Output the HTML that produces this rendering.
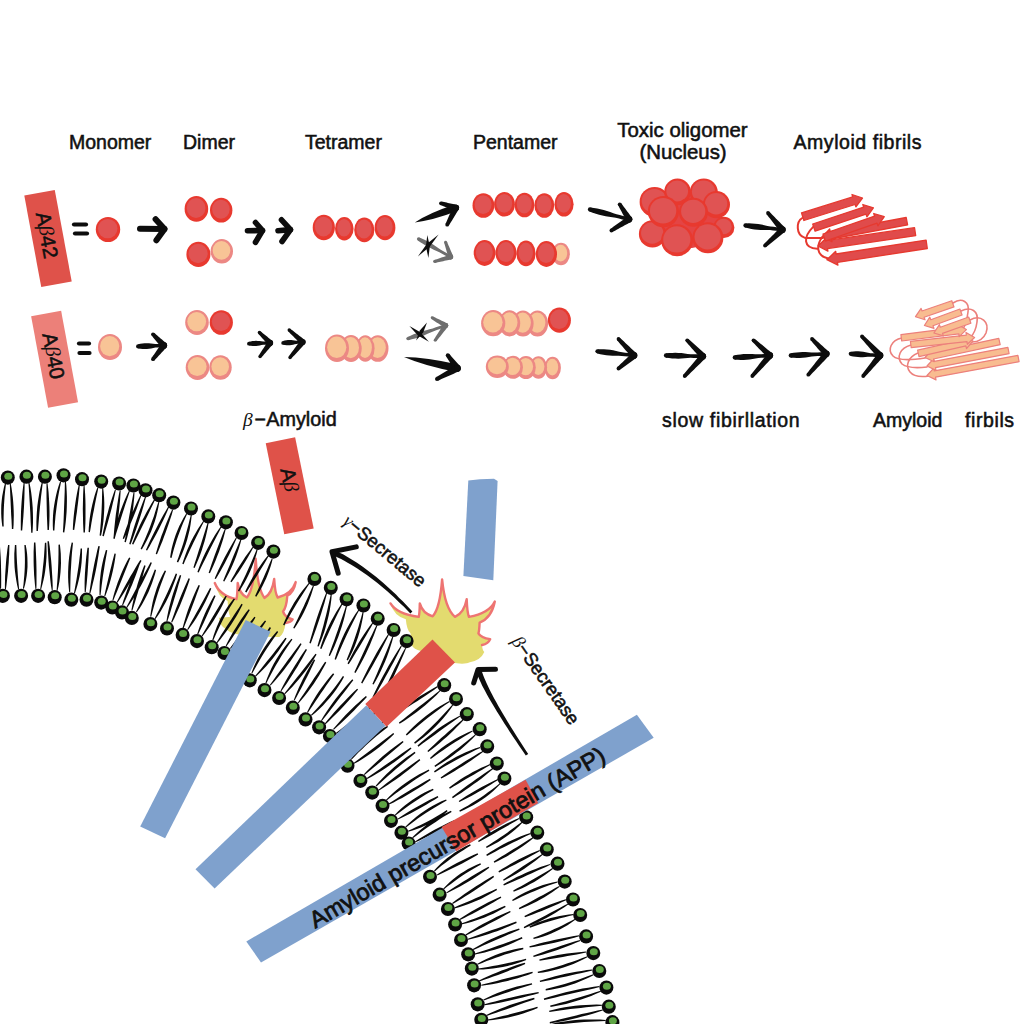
<!DOCTYPE html><html><head><meta charset="utf-8"><style>html,body{margin:0;padding:0;background:#fff;width:1024px;height:1024px;overflow:hidden}svg{display:block}text{font-family:"Liberation Sans", sans-serif;fill:#111;stroke:#111;stroke-width:0.55px}tspan.g{stroke-width:0}</style></head><body>
<svg width="1024" height="1024" viewBox="0 0 1024 1024">
<rect width="1024" height="1024" fill="#fff"/>
<text x="69" y="149" font-size="19.5" text-anchor="start" >Monomer</text>
<text x="183" y="149" font-size="19.5" text-anchor="start" >Dimer</text>
<text x="305" y="149" font-size="19.5" text-anchor="start" >Tetramer</text>
<text x="473" y="149" font-size="19.5" text-anchor="start" >Pentamer</text>
<text x="682.5" y="136.5" font-size="20.4" text-anchor="middle" >Toxic oligomer</text>
<text x="683" y="159" font-size="20.4" text-anchor="middle" >(Nucleus)</text>
<text x="793.5" y="149" font-size="19.5" text-anchor="start" letter-spacing="0.55">Amyloid fibrils</text>
<g transform="translate(48,238.5) rotate(-10.5)">
<rect x="-15.5" y="-46.5" width="31" height="93" fill="#DF524A"/>
<text x="-3.5" y="0" font-size="20.5" text-anchor="middle" dominant-baseline="central" transform="rotate(90)">A<tspan class="g" font-family="Liberation Serif" font-style="italic">β</tspan>42</text>
</g>
<path d="M74.0,224.5L86.0,224.5" stroke="#0d0d0d" stroke-width="4.2" stroke-linecap="round" fill="none"/>
<path d="M75.0,233.5L87.0,233.5" stroke="#0d0d0d" stroke-width="4.2" stroke-linecap="round" fill="none"/>
<ellipse cx="108.0" cy="229.5" rx="12.2" ry="12.6" fill="#E8392F"/>
<ellipse cx="107.7" cy="228.6" rx="9.8" ry="9.7" fill="#E05353"/>
<path d="M140.0,228.7L164.5,229.0" stroke="#0d0d0d" stroke-width="6" stroke-linecap="round" fill="none"/>
<path d="M155.6,219.2L164.5,229.0L156.4,240.3" stroke="#0d0d0d" stroke-width="6" stroke-linecap="round" stroke-linejoin="round" fill="none"/>
<ellipse cx="196.4" cy="208.9" rx="11.8" ry="12.8" fill="#E8392F"/>
<ellipse cx="196.1" cy="208.0" rx="9.4" ry="9.9" fill="#E05353"/>
<ellipse cx="221.2" cy="210.2" rx="11.2" ry="12.4" fill="#E8392F"/>
<ellipse cx="220.9" cy="209.3" rx="8.8" ry="9.5" fill="#E05353"/>
<ellipse cx="221.8" cy="251.3" rx="11.2" ry="12.2" fill="#EC8884"/>
<ellipse cx="221.5" cy="250.4" rx="8.8" ry="9.3" fill="#F8C496"/>
<ellipse cx="198.4" cy="254.4" rx="12.0" ry="12.6" fill="#E8392F"/>
<ellipse cx="198.1" cy="253.5" rx="9.6" ry="9.7" fill="#E05353"/>
<path d="M247.5,230.8L262.5,230.5" stroke="#0d0d0d" stroke-width="5.6" stroke-linecap="round" fill="none"/>
<path d="M255.5,222.5L262.5,230.5L255.5,242.3" stroke="#0d0d0d" stroke-width="5.6" stroke-linecap="round" stroke-linejoin="round" fill="none"/>
<path d="M278.0,230.8L290.5,229.6" stroke="#0d0d0d" stroke-width="5.6" stroke-linecap="round" fill="none"/>
<path d="M281.5,219.8L290.5,229.6L282.0,241.5" stroke="#0d0d0d" stroke-width="5.6" stroke-linecap="round" stroke-linejoin="round" fill="none"/>
<ellipse cx="385.0" cy="227.7" rx="10.4" ry="12.6" fill="#E8392F"/>
<ellipse cx="384.7" cy="226.8" rx="8.0" ry="9.7" fill="#E05353"/>
<ellipse cx="364.3" cy="229.9" rx="10.1" ry="12.3" fill="#E8392F"/>
<ellipse cx="364.0" cy="229.0" rx="7.7" ry="9.4" fill="#E05353"/>
<ellipse cx="344.3" cy="228.7" rx="9.3" ry="11.7" fill="#E8392F"/>
<ellipse cx="344.0" cy="227.8" rx="6.9" ry="8.8" fill="#E05353"/>
<ellipse cx="323.8" cy="227.5" rx="11.1" ry="12.8" fill="#E8392F"/>
<ellipse cx="323.5" cy="226.6" rx="8.7" ry="9.9" fill="#E05353"/>
<path d="M414.8,222.4 Q432.7,220.5 457.2,211.1 L454.8,204.5 Q429.9,212.6 414.8,222.4Z" fill="#0d0d0d"/>
<path d="M456.90,204.80L455.62,204.53L454.34,204.25L453.06,203.98L451.78,203.70L450.50,203.43L449.22,203.15L447.94,202.88L446.66,202.60L445.38,202.33L444.10,202.05L442.82,201.78L441.54,201.50L440.46,205.10L441.68,205.57L442.90,206.05L444.12,206.52L445.34,207.00L446.56,207.47L447.78,207.95L449.00,208.42L450.22,208.90L451.44,209.37L452.66,209.85L453.88,210.32L455.10,210.80Z" fill="#0d0d0d"/><circle cx="456.00" cy="207.80" r="3.13" fill="#0d0d0d"/><circle cx="441.00" cy="203.30" r="1.88" fill="#0d0d0d"/>
<path d="M453.22,206.35L452.58,207.81L451.94,209.27L451.30,210.72L450.66,212.18L450.02,213.64L449.38,215.09L448.74,216.55L448.10,218.01L447.46,219.46L446.81,220.92L446.17,222.38L445.53,223.83L448.87,225.57L449.69,224.21L450.52,222.85L451.34,221.49L452.17,220.13L453.00,218.77L453.82,217.41L454.65,216.05L455.47,214.69L456.30,213.33L457.13,211.97L457.95,210.61L458.78,209.25Z" fill="#0d0d0d"/><circle cx="456.00" cy="207.80" r="3.13" fill="#0d0d0d"/><circle cx="447.20" cy="224.70" r="1.88" fill="#0d0d0d"/>
<path d="M417.77,240.38L420.32,242.13L422.90,243.82L425.53,245.42L428.22,246.92L430.96,248.32L433.75,249.64L436.57,250.90L439.37,252.21L442.05,253.72L444.73,255.23L447.42,256.73L450.10,258.24L451.50,255.76L448.82,254.25L446.13,252.74L443.45,251.23L440.77,249.72L438.19,248.02L435.65,246.26L433.07,244.56L430.45,242.95L427.77,241.43L425.04,240.01L422.25,238.69L419.43,237.42Z" fill="#6e6e6e"/><circle cx="418.60" cy="238.90" r="1.70" fill="#6e6e6e"/><circle cx="450.80" cy="257.00" r="1.43" fill="#6e6e6e"/>
<path d="M453.14,256.17L452.63,254.97L452.12,253.78L451.61,252.58L451.10,251.38L450.58,250.18L450.07,248.99L449.56,247.79L449.05,246.59L448.54,245.40L448.03,244.20L447.52,243.00L447.01,241.80L444.19,242.80L444.55,244.05L444.91,245.30L445.26,246.55L445.62,247.81L445.97,249.06L446.33,250.31L446.68,251.57L447.04,252.82L447.39,254.07L447.75,255.32L448.10,256.58L448.46,257.83Z" fill="#6e6e6e"/><circle cx="450.80" cy="257.00" r="2.48" fill="#6e6e6e"/><circle cx="445.60" cy="242.30" r="1.49" fill="#6e6e6e"/>
<path d="M450.14,254.61L448.81,255.06L447.48,255.52L446.15,255.97L444.82,256.43L443.50,256.88L442.17,257.34L440.84,257.79L439.51,258.24L438.18,258.70L436.86,259.15L435.53,259.61L434.20,260.06L435.00,262.94L436.37,262.64L437.74,262.35L439.12,262.05L440.49,261.76L441.86,261.46L443.23,261.16L444.60,260.87L445.98,260.57L447.35,260.28L448.72,259.98L450.09,259.69L451.46,259.39Z" fill="#6e6e6e"/><circle cx="450.80" cy="257.00" r="2.48" fill="#6e6e6e"/><circle cx="434.60" cy="261.50" r="1.49" fill="#6e6e6e"/>
<path d="M427.3,234.9L425.9,246.5L428.4,258.0L429.8,246.4Z" fill="#0d0d0d"/>
<path d="M438.6,234.5L426.8,244.1L417.9,256.4L429.7,246.8Z" fill="#0d0d0d"/>
<ellipse cx="483.4" cy="205.5" rx="10.9" ry="12.3" fill="#E8392F"/>
<ellipse cx="483.1" cy="204.6" rx="8.5" ry="9.4" fill="#E05353"/>
<ellipse cx="504.5" cy="204.3" rx="10.4" ry="12.3" fill="#E8392F"/>
<ellipse cx="504.2" cy="203.4" rx="8.0" ry="9.4" fill="#E05353"/>
<ellipse cx="524.5" cy="205.0" rx="9.9" ry="12.3" fill="#E8392F"/>
<ellipse cx="524.2" cy="204.1" rx="7.5" ry="9.4" fill="#E05353"/>
<ellipse cx="544.3" cy="205.5" rx="9.9" ry="12.3" fill="#E8392F"/>
<ellipse cx="544.0" cy="204.6" rx="7.5" ry="9.4" fill="#E05353"/>
<ellipse cx="564.0" cy="204.3" rx="9.6" ry="12.3" fill="#E8392F"/>
<ellipse cx="563.7" cy="203.4" rx="7.2" ry="9.4" fill="#E05353"/>
<ellipse cx="561.0" cy="254.0" rx="8.9" ry="11.2" fill="#EC8884"/>
<ellipse cx="560.7" cy="253.1" rx="6.5" ry="8.3" fill="#F8C496"/>
<ellipse cx="546.4" cy="254.0" rx="10.6" ry="12.9" fill="#E8392F"/>
<ellipse cx="546.1" cy="253.1" rx="8.2" ry="10.0" fill="#E05353"/>
<ellipse cx="526.0" cy="253.4" rx="9.6" ry="12.9" fill="#E8392F"/>
<ellipse cx="525.7" cy="252.5" rx="7.2" ry="10.0" fill="#E05353"/>
<ellipse cx="506.0" cy="253.0" rx="10.6" ry="12.9" fill="#E8392F"/>
<ellipse cx="505.7" cy="252.1" rx="8.2" ry="10.0" fill="#E05353"/>
<ellipse cx="484.6" cy="253.0" rx="10.9" ry="12.9" fill="#E8392F"/>
<ellipse cx="484.3" cy="252.1" rx="8.5" ry="10.0" fill="#E05353"/>
<path d="M589.48,211.57L592.66,212.73L595.87,213.80L599.10,214.75L602.37,215.56L605.67,216.22L609.01,216.77L612.36,217.24L615.70,217.78L618.96,218.59L622.23,219.41L625.50,220.23L628.76,221.04L629.64,217.56L626.37,216.74L623.10,215.92L619.84,215.11L616.57,214.29L613.37,213.20L610.19,212.03L606.99,210.94L603.76,209.98L600.50,209.15L597.20,208.46L593.87,207.90L590.52,207.43Z" fill="#0d0d0d"/><circle cx="590.00" cy="209.50" r="2.14" fill="#0d0d0d"/><circle cx="629.20" cy="219.30" r="1.80" fill="#0d0d0d"/>
<path d="M631.85,217.62L630.97,216.43L630.09,215.24L629.21,214.04L628.33,212.85L627.45,211.65L626.57,210.46L625.69,209.27L624.81,208.07L623.93,206.88L623.05,205.68L622.17,204.49L621.29,203.29L618.11,205.31L618.82,206.61L619.52,207.92L620.22,209.22L620.93,210.53L621.63,211.83L622.33,213.14L623.04,214.45L623.74,215.75L624.44,217.06L625.15,218.36L625.85,219.67L626.55,220.98Z" fill="#0d0d0d"/><circle cx="629.20" cy="219.30" r="3.13" fill="#0d0d0d"/><circle cx="619.70" cy="204.30" r="1.88" fill="#0d0d0d"/>
<path d="M627.53,216.65L626.10,217.67L624.68,218.69L623.25,219.71L621.82,220.74L620.39,221.76L618.97,222.78L617.54,223.80L616.11,224.82L614.68,225.84L613.25,226.87L611.83,227.89L610.40,228.91L612.40,232.09L613.94,231.25L615.48,230.40L617.02,229.56L618.56,228.71L620.10,227.87L621.63,227.02L623.17,226.18L624.71,225.33L626.25,224.49L627.79,223.64L629.33,222.80L630.87,221.95Z" fill="#0d0d0d"/><circle cx="629.20" cy="219.30" r="3.13" fill="#0d0d0d"/><circle cx="611.40" cy="230.50" r="1.88" fill="#0d0d0d"/>
<path d="M655,200 L675,192 L700,192 L714,200 L722,215 L722,232 L712,244 L692,248 L668,248 L654,238 L652,215 Z" fill="#E44444"/>
<ellipse cx="654.6" cy="201.9" rx="15.0" ry="15.0" fill="#E8392F"/>
<ellipse cx="654.3" cy="201.0" rx="12.6" ry="12.1" fill="#E05353"/>
<ellipse cx="677.5" cy="191.9" rx="13.3" ry="13.3" fill="#E8392F"/>
<ellipse cx="677.2" cy="191.0" rx="10.9" ry="10.4" fill="#E05353"/>
<ellipse cx="703.8" cy="192.5" rx="14.0" ry="14.0" fill="#E8392F"/>
<ellipse cx="703.5" cy="191.6" rx="11.6" ry="11.1" fill="#E05353"/>
<ellipse cx="716.4" cy="204.6" rx="13.6" ry="13.6" fill="#E8392F"/>
<ellipse cx="716.1" cy="203.7" rx="11.2" ry="10.7" fill="#E05353"/>
<ellipse cx="723.8" cy="227.4" rx="10.6" ry="10.6" fill="#E8392F"/>
<ellipse cx="723.5" cy="226.5" rx="8.2" ry="7.7" fill="#E05353"/>
<ellipse cx="652.5" cy="233.9" rx="13.6" ry="13.6" fill="#E8392F"/>
<ellipse cx="652.2" cy="233.0" rx="11.2" ry="10.7" fill="#E05353"/>
<ellipse cx="663.4" cy="211.6" rx="15.6" ry="15.6" fill="#E8392F"/>
<ellipse cx="663.1" cy="210.7" rx="13.2" ry="12.7" fill="#E05353"/>
<ellipse cx="693.5" cy="212.2" rx="14.5" ry="14.5" fill="#E8392F"/>
<ellipse cx="693.2" cy="211.3" rx="12.1" ry="11.6" fill="#E05353"/>
<ellipse cx="677.1" cy="240.3" rx="16.0" ry="16.0" fill="#E8392F"/>
<ellipse cx="676.8" cy="239.4" rx="13.6" ry="13.1" fill="#E05353"/>
<ellipse cx="707.9" cy="237.7" rx="15.5" ry="15.5" fill="#E8392F"/>
<ellipse cx="707.6" cy="236.8" rx="13.1" ry="12.6" fill="#E05353"/>
<path d="M745.26,227.62L748.31,228.33L751.37,228.93L754.45,229.42L757.54,229.76L760.65,229.95L763.77,230.03L766.91,230.02L770.03,230.09L773.12,230.44L776.21,230.79L779.31,231.14L782.40,231.49L782.80,227.91L779.71,227.56L776.62,227.21L773.53,226.86L770.44,226.51L767.38,225.88L764.33,225.17L761.26,224.55L758.19,224.04L755.10,223.68L751.99,223.47L748.87,223.37L745.74,223.38Z" fill="#0d0d0d"/><circle cx="745.50" cy="225.50" r="2.14" fill="#0d0d0d"/><circle cx="782.60" cy="229.70" r="1.80" fill="#0d0d0d"/>
<path d="M784.96,227.64L783.66,226.32L782.37,224.99L781.07,223.67L779.78,222.35L778.48,221.02L777.19,219.70L775.89,218.38L774.60,217.05L773.30,215.73L772.01,214.41L770.71,213.09L769.41,211.76L766.59,214.24L767.72,215.70L768.86,217.16L770.00,218.62L771.14,220.08L772.28,221.54L773.41,223.00L774.55,224.46L775.69,225.92L776.83,227.38L777.97,228.84L779.10,230.30L780.24,231.76Z" fill="#0d0d0d"/><circle cx="782.60" cy="229.70" r="3.13" fill="#0d0d0d"/><circle cx="768.00" cy="213.00" r="1.88" fill="#0d0d0d"/>
<path d="M780.50,227.38L779.10,228.78L777.71,230.18L776.31,231.58L774.91,232.99L773.52,234.39L772.12,235.79L770.72,237.19L769.33,238.60L767.93,240.00L766.53,241.40L765.14,242.80L763.74,244.21L766.26,246.99L767.80,245.75L769.33,244.50L770.87,243.25L772.41,242.00L773.94,240.76L775.48,239.51L777.02,238.26L778.55,237.01L780.09,235.77L781.63,234.52L783.16,233.27L784.70,232.02Z" fill="#0d0d0d"/><circle cx="782.60" cy="229.70" r="3.13" fill="#0d0d0d"/><circle cx="765.00" cy="245.60" r="1.88" fill="#0d0d0d"/>
<g transform="translate(54.6,359.2) rotate(-10.5)">
<rect x="-15.25" y="-46.5" width="30.5" height="93" fill="#EC8079"/>
<text x="-3.5" y="0" font-size="20.5" text-anchor="middle" dominant-baseline="central" transform="rotate(90)">A<tspan class="g" font-family="Liberation Serif" font-style="italic">β</tspan>40</text>
</g>
<path d="M79.0,343.5L89.0,343.5" stroke="#0d0d0d" stroke-width="4.2" stroke-linecap="round" fill="none"/>
<path d="M79.5,353.0L89.5,353.0" stroke="#0d0d0d" stroke-width="4.2" stroke-linecap="round" fill="none"/>
<ellipse cx="110.0" cy="347.0" rx="12.0" ry="13.0" fill="#EC8884"/>
<ellipse cx="109.7" cy="346.1" rx="9.6" ry="10.1" fill="#F8C496"/>
<path d="M138.27,348.54L140.44,348.81L142.60,349.00L144.75,349.06L146.90,348.97L149.04,348.75L151.19,348.39L153.32,347.96L155.46,347.60L157.61,347.52L159.76,347.45L161.91,347.37L164.06,347.30L163.94,343.70L161.79,343.78L159.64,343.85L157.49,343.93L155.34,344.00L153.18,343.79L151.01,343.51L148.86,343.30L146.70,343.23L144.55,343.29L142.40,343.50L140.26,343.84L138.13,344.26Z" fill="#0d0d0d"/><circle cx="138.20" cy="346.40" r="2.14" fill="#0d0d0d"/><circle cx="164.00" cy="345.50" r="1.80" fill="#0d0d0d"/>
<path d="M166.23,343.31L165.24,342.45L164.25,341.59L163.26,340.72L162.27,339.86L161.28,339.00L160.29,338.14L159.30,337.28L158.31,336.42L157.31,335.56L156.32,334.70L155.33,333.84L154.34,332.98L151.66,335.62L152.50,336.62L153.34,337.63L154.19,338.64L155.03,339.64L155.87,340.65L156.71,341.66L157.55,342.66L158.40,343.67L159.24,344.68L160.08,345.68L160.92,346.69L161.77,347.69Z" fill="#0d0d0d"/><circle cx="164.00" cy="345.50" r="3.13" fill="#0d0d0d"/><circle cx="153.00" cy="334.30" r="1.88" fill="#0d0d0d"/>
<path d="M161.56,343.54L160.72,344.75L159.89,345.95L159.05,347.16L158.22,348.37L157.38,349.57L156.55,350.78L155.71,351.99L154.88,353.20L154.04,354.40L153.21,355.61L152.37,356.82L151.53,358.02L154.47,360.38L155.46,359.30L156.46,358.22L157.46,357.15L158.46,356.07L159.46,355.00L160.45,353.92L161.45,352.84L162.45,351.77L163.45,350.69L164.45,349.61L165.44,348.54L166.44,347.46Z" fill="#0d0d0d"/><circle cx="164.00" cy="345.50" r="3.13" fill="#0d0d0d"/><circle cx="153.00" cy="359.20" r="1.88" fill="#0d0d0d"/>
<ellipse cx="197.0" cy="322.5" rx="11.8" ry="12.5" fill="#EC8884"/>
<ellipse cx="196.7" cy="321.6" rx="9.4" ry="9.6" fill="#F8C496"/>
<ellipse cx="221.3" cy="322.5" rx="11.6" ry="12.3" fill="#E8392F"/>
<ellipse cx="221.0" cy="321.6" rx="9.2" ry="9.4" fill="#E05353"/>
<ellipse cx="220.5" cy="367.5" rx="11.2" ry="12.2" fill="#EC8884"/>
<ellipse cx="220.2" cy="366.6" rx="8.8" ry="9.3" fill="#F8C496"/>
<ellipse cx="197.5" cy="367.5" rx="11.8" ry="12.4" fill="#EC8884"/>
<ellipse cx="197.2" cy="366.6" rx="9.4" ry="9.5" fill="#F8C496"/>
<path d="M249.07,345.62L250.86,345.87L252.64,346.03L254.42,346.09L256.20,346.01L257.97,345.81L259.73,345.49L261.50,345.10L263.26,344.78L265.04,344.71L266.81,344.64L268.59,344.58L270.36,344.51L270.24,341.29L268.46,341.36L266.69,341.42L264.91,341.49L263.14,341.56L261.35,341.37L259.57,341.11L257.78,340.93L256.00,340.86L254.23,340.91L252.46,341.10L250.69,341.40L248.93,341.78Z" fill="#0d0d0d"/><circle cx="249.00" cy="343.70" r="1.92" fill="#0d0d0d"/><circle cx="270.30" cy="342.90" r="1.61" fill="#0d0d0d"/>
<path d="M272.24,340.87L271.27,340.07L270.29,339.27L269.32,338.47L268.35,337.67L267.37,336.87L266.40,336.07L265.43,335.28L264.45,334.48L263.48,333.68L262.51,332.88L261.54,332.08L260.56,331.28L258.24,333.72L259.08,334.65L259.92,335.59L260.77,336.52L261.61,337.46L262.46,338.39L263.30,339.33L264.14,340.26L264.99,341.19L265.83,342.13L266.67,343.06L267.52,344.00L268.36,344.93Z" fill="#0d0d0d"/><circle cx="270.30" cy="342.90" r="2.81" fill="#0d0d0d"/><circle cx="259.40" cy="332.50" r="1.68" fill="#0d0d0d"/>
<path d="M268.06,341.21L267.27,342.41L266.49,343.61L265.71,344.81L264.92,346.00L264.14,347.20L263.35,348.40L262.57,349.60L261.79,350.80L261.00,351.99L260.22,353.19L259.44,354.39L258.65,355.59L261.35,357.61L262.28,356.53L263.21,355.44L264.15,354.36L265.08,353.27L266.01,352.19L266.95,351.10L267.88,350.01L268.81,348.93L269.74,347.84L270.68,346.76L271.61,345.67L272.54,344.59Z" fill="#0d0d0d"/><circle cx="270.30" cy="342.90" r="2.81" fill="#0d0d0d"/><circle cx="260.00" cy="356.60" r="1.68" fill="#0d0d0d"/>
<path d="M283.29,344.82L284.94,345.06L286.58,345.22L288.22,345.26L289.85,345.18L291.48,344.96L293.10,344.64L294.72,344.24L296.34,343.91L297.97,343.84L299.61,343.76L301.24,343.69L302.87,343.61L302.73,340.39L301.09,340.46L299.46,340.54L297.83,340.61L296.19,340.69L294.55,340.51L292.90,340.26L291.25,340.09L289.62,340.02L287.98,340.09L286.35,340.28L284.73,340.59L283.11,340.98Z" fill="#0d0d0d"/><circle cx="283.20" cy="342.90" r="1.92" fill="#0d0d0d"/><circle cx="302.80" cy="342.00" r="1.61" fill="#0d0d0d"/>
<path d="M304.66,339.89L303.46,338.96L302.27,338.03L301.07,337.11L299.88,336.18L298.68,335.25L297.49,334.32L296.29,333.39L295.10,332.46L293.90,331.53L292.71,330.60L291.51,329.67L290.31,328.74L288.09,331.26L289.16,332.33L290.23,333.40L291.30,334.47L292.37,335.54L293.44,336.61L294.51,337.68L295.59,338.75L296.66,339.82L297.73,340.89L298.80,341.97L299.87,343.04L300.94,344.11Z" fill="#0d0d0d"/><circle cx="302.80" cy="342.00" r="2.81" fill="#0d0d0d"/><circle cx="289.20" cy="330.00" r="1.68" fill="#0d0d0d"/>
<path d="M300.63,340.21L299.64,341.56L298.65,342.91L297.65,344.27L296.66,345.62L295.66,346.97L294.67,348.32L293.67,349.67L292.68,351.02L291.68,352.37L290.69,353.72L289.70,355.08L288.70,356.43L291.30,358.57L292.44,357.34L293.58,356.11L294.72,354.88L295.85,353.64L296.99,352.41L298.13,351.18L299.27,349.95L300.41,348.72L301.55,347.48L302.69,346.25L303.83,345.02L304.97,343.79Z" fill="#0d0d0d"/><circle cx="302.80" cy="342.00" r="2.81" fill="#0d0d0d"/><circle cx="290.00" cy="357.50" r="1.68" fill="#0d0d0d"/>
<ellipse cx="377.8" cy="348.5" rx="10.7" ry="13.3" fill="#EC8884"/>
<ellipse cx="377.5" cy="347.6" rx="8.3" ry="10.4" fill="#F8C496"/>
<ellipse cx="365.3" cy="348.5" rx="9.3" ry="13.2" fill="#EC8884"/>
<ellipse cx="365.0" cy="347.6" rx="6.9" ry="10.3" fill="#F8C496"/>
<ellipse cx="351.0" cy="348.5" rx="10.7" ry="13.5" fill="#EC8884"/>
<ellipse cx="350.7" cy="347.6" rx="8.3" ry="10.6" fill="#F8C496"/>
<ellipse cx="337.0" cy="348.2" rx="12.0" ry="13.7" fill="#EC8884"/>
<ellipse cx="336.7" cy="347.3" rx="9.6" ry="10.8" fill="#F8C496"/>
<path d="M408.56,340.20L411.80,339.37L415.02,338.46L418.20,337.46L421.35,336.35L424.46,335.14L427.54,333.83L430.59,332.46L433.67,331.15L436.82,330.05L439.97,328.95L443.12,327.85L446.27,326.75L445.33,324.05L442.18,325.15L439.03,326.25L435.88,327.35L432.73,328.45L429.51,329.34L426.26,330.17L423.04,331.06L419.85,332.05L416.70,333.14L413.58,334.34L410.50,335.63L407.44,337.00Z" fill="#6e6e6e"/><circle cx="408.00" cy="338.60" r="1.70" fill="#6e6e6e"/><circle cx="445.80" cy="325.40" r="1.43" fill="#6e6e6e"/>
<path d="M447.01,323.23L445.84,322.67L444.66,322.11L443.49,321.55L442.32,320.99L441.14,320.43L439.97,319.87L438.80,319.30L437.62,318.74L436.45,318.18L435.27,317.62L434.10,317.06L432.93,316.50L431.47,319.10L432.57,319.81L433.66,320.51L434.75,321.22L435.84,321.92L436.94,322.63L438.03,323.33L439.12,324.04L440.22,324.75L441.31,325.45L442.40,326.16L443.50,326.86L444.59,327.57Z" fill="#6e6e6e"/><circle cx="445.80" cy="325.40" r="2.48" fill="#6e6e6e"/><circle cx="432.20" cy="317.80" r="1.49" fill="#6e6e6e"/>
<path d="M443.78,323.96L442.96,325.25L442.14,326.54L441.33,327.83L440.51,329.12L439.70,330.41L438.88,331.70L438.06,332.99L437.25,334.28L436.43,335.57L435.62,336.86L434.80,338.15L433.99,339.44L436.41,341.16L437.37,339.97L438.32,338.78L439.27,337.58L440.22,336.39L441.17,335.20L442.12,334.00L443.07,332.81L444.02,331.61L444.97,330.42L445.92,329.23L446.87,328.03L447.82,326.84Z" fill="#6e6e6e"/><circle cx="445.80" cy="325.40" r="2.48" fill="#6e6e6e"/><circle cx="435.20" cy="340.30" r="1.49" fill="#6e6e6e"/>
<path d="M409.4,326.1L417.9,335.5L428.9,341.7L420.4,332.3Z" fill="#0d0d0d"/>
<path d="M427.0,322.6L419.8,330.5L416.0,340.5L423.2,332.6Z" fill="#0d0d0d"/>
<path d="M404.0,357.0 Q424.5,365.9 456.7,372.0 L458.3,364.6 Q426.3,357.1 404.0,357.0Z" fill="#0d0d0d"/>
<path d="M460.18,366.30L459.29,365.28L458.39,364.26L457.49,363.25L456.59,362.23L455.69,361.21L454.80,360.20L453.90,359.18L453.00,358.17L452.10,357.15L451.21,356.13L450.31,355.12L449.41,354.10L446.19,356.50L446.91,357.65L447.63,358.80L448.35,359.95L449.07,361.10L449.78,362.25L450.50,363.40L451.22,364.55L451.94,365.70L452.66,366.85L453.38,368.00L454.10,369.15L454.82,370.30Z" fill="#0d0d0d"/><circle cx="457.50" cy="368.30" r="3.35" fill="#0d0d0d"/><circle cx="447.80" cy="355.30" r="2.01" fill="#0d0d0d"/>
<path d="M455.96,365.33L454.31,366.31L452.65,367.29L450.99,368.27L449.33,369.26L447.68,370.24L446.02,371.22L444.36,372.20L442.71,373.19L441.05,374.17L439.39,375.15L437.73,376.13L436.08,377.12L437.92,380.68L439.68,379.90L441.44,379.12L443.20,378.33L444.96,377.55L446.72,376.76L448.48,375.98L450.24,375.19L452.00,374.41L453.76,373.63L455.52,372.84L457.28,372.06L459.04,371.27Z" fill="#0d0d0d"/><circle cx="457.50" cy="368.30" r="3.35" fill="#0d0d0d"/><circle cx="437.00" cy="378.90" r="2.01" fill="#0d0d0d"/>
<ellipse cx="559.4" cy="320.2" rx="11.5" ry="12.6" fill="#E8392F"/>
<ellipse cx="559.1" cy="319.3" rx="9.1" ry="9.7" fill="#E05353"/>
<ellipse cx="537.5" cy="323.5" rx="10.6" ry="13.1" fill="#EC8884"/>
<ellipse cx="537.2" cy="322.6" rx="8.2" ry="10.2" fill="#F8C496"/>
<ellipse cx="523.0" cy="323.5" rx="10.6" ry="13.1" fill="#EC8884"/>
<ellipse cx="522.7" cy="322.6" rx="8.2" ry="10.2" fill="#F8C496"/>
<ellipse cx="509.6" cy="323.3" rx="10.6" ry="13.1" fill="#EC8884"/>
<ellipse cx="509.3" cy="322.4" rx="8.2" ry="10.2" fill="#F8C496"/>
<ellipse cx="493.2" cy="323.2" rx="12.1" ry="13.1" fill="#EC8884"/>
<ellipse cx="492.9" cy="322.3" rx="9.7" ry="10.2" fill="#F8C496"/>
<ellipse cx="552.6" cy="368.0" rx="8.3" ry="11.2" fill="#EC8884"/>
<ellipse cx="552.3" cy="367.1" rx="5.9" ry="8.3" fill="#F8C496"/>
<ellipse cx="538.5" cy="367.5" rx="8.6" ry="11.2" fill="#EC8884"/>
<ellipse cx="538.2" cy="366.6" rx="6.2" ry="8.3" fill="#F8C496"/>
<ellipse cx="526.0" cy="367.5" rx="9.8" ry="11.5" fill="#EC8884"/>
<ellipse cx="525.7" cy="366.6" rx="7.4" ry="8.6" fill="#F8C496"/>
<ellipse cx="513.0" cy="367.3" rx="10.0" ry="11.5" fill="#EC8884"/>
<ellipse cx="512.7" cy="366.4" rx="7.6" ry="8.6" fill="#F8C496"/>
<ellipse cx="497.3" cy="366.8" rx="11.5" ry="11.3" fill="#EC8884"/>
<ellipse cx="497.0" cy="365.9" rx="9.1" ry="8.4" fill="#F8C496"/>
<path d="M597.26,353.42L600.28,354.13L603.30,354.73L606.35,355.22L609.41,355.56L612.48,355.75L615.57,355.83L618.67,355.82L621.76,355.89L624.82,356.24L627.88,356.59L630.94,356.94L634.00,357.29L634.40,353.71L631.35,353.36L628.29,353.01L625.23,352.66L622.17,352.31L619.15,351.68L616.13,350.97L613.10,350.35L610.06,349.84L607.00,349.48L603.93,349.27L600.84,349.17L597.74,349.18Z" fill="#0d0d0d"/><circle cx="597.50" cy="351.30" r="2.14" fill="#0d0d0d"/><circle cx="634.20" cy="355.50" r="1.80" fill="#0d0d0d"/>
<path d="M636.47,353.34L635.09,352.04L633.70,350.73L632.32,349.43L630.93,348.13L629.55,346.83L628.17,345.52L626.78,344.22L625.40,342.92L624.01,341.61L622.63,340.31L621.25,339.01L619.86,337.70L617.14,340.30L618.37,341.74L619.60,343.19L620.84,344.64L622.07,346.08L623.30,347.53L624.53,348.98L625.77,350.42L627.00,351.87L628.23,353.32L629.47,354.77L630.70,356.21L631.93,357.66Z" fill="#0d0d0d"/><circle cx="634.20" cy="355.50" r="3.13" fill="#0d0d0d"/><circle cx="618.50" cy="339.00" r="1.88" fill="#0d0d0d"/>
<path d="M632.20,353.09L630.96,354.25L629.72,355.42L628.48,356.58L627.24,357.74L625.99,358.91L624.75,360.07L623.51,361.23L622.27,362.40L621.03,363.56L619.79,364.73L618.54,365.89L617.30,367.05L619.70,369.95L621.07,368.94L622.45,367.94L623.82,366.94L625.20,365.94L626.57,364.93L627.95,363.93L629.32,362.93L630.70,361.92L632.07,360.92L633.45,359.92L634.82,358.92L636.20,357.91Z" fill="#0d0d0d"/><circle cx="634.20" cy="355.50" r="3.13" fill="#0d0d0d"/><circle cx="618.50" cy="368.50" r="1.88" fill="#0d0d0d"/>
<path d="M665.95,357.64L669.03,358.06L672.11,358.39L675.19,358.59L678.27,358.64L681.36,358.55L684.45,358.35L687.54,358.05L690.63,357.83L693.71,357.90L696.79,357.96L699.88,358.03L702.96,358.10L703.04,354.50L699.96,354.44L696.87,354.37L693.79,354.30L690.71,354.24L687.63,353.88L684.55,353.45L681.48,353.11L678.40,352.89L675.31,352.81L672.23,352.88L669.14,353.08L666.05,353.36Z" fill="#0d0d0d"/><circle cx="666.00" cy="355.50" r="2.14" fill="#0d0d0d"/><circle cx="703.00" cy="356.30" r="1.80" fill="#0d0d0d"/>
<path d="M705.23,354.10L703.84,352.84L702.45,351.58L701.06,350.32L699.66,349.06L698.27,347.80L696.88,346.54L695.49,345.28L694.10,344.02L692.71,342.76L691.32,341.50L689.93,340.24L688.54,338.98L685.86,341.62L687.11,343.03L688.35,344.43L689.59,345.84L690.83,347.25L692.07,348.65L693.32,350.06L694.56,351.47L695.80,352.87L697.04,354.28L698.29,355.69L699.53,357.09L700.77,358.50Z" fill="#0d0d0d"/><circle cx="703.00" cy="356.30" r="3.13" fill="#0d0d0d"/><circle cx="687.20" cy="340.30" r="1.88" fill="#0d0d0d"/>
<path d="M700.71,354.17L699.26,355.88L697.81,357.59L696.36,359.31L694.91,361.02L693.46,362.73L692.01,364.44L690.57,366.16L689.12,367.87L687.67,369.58L686.22,371.30L684.77,373.01L683.32,374.72L686.08,377.28L687.68,375.71L689.28,374.14L690.88,372.57L692.48,371.00L694.08,369.43L695.69,367.86L697.29,366.28L698.89,364.71L700.49,363.14L702.09,361.57L703.69,360.00L705.29,358.43Z" fill="#0d0d0d"/><circle cx="703.00" cy="356.30" r="3.13" fill="#0d0d0d"/><circle cx="684.70" cy="376.00" r="1.88" fill="#0d0d0d"/>
<path d="M734.92,359.64L737.87,359.82L740.82,359.91L743.76,359.88L746.70,359.70L749.62,359.38L752.54,358.94L755.45,358.41L758.37,357.96L761.30,357.80L764.24,357.63L767.17,357.46L770.10,357.30L769.90,353.70L766.96,353.87L764.03,354.04L761.10,354.20L758.16,354.37L755.22,354.25L752.26,354.06L749.31,353.95L746.37,353.96L743.44,354.12L740.51,354.42L737.59,354.85L734.68,355.36Z" fill="#0d0d0d"/><circle cx="734.80" cy="357.50" r="2.14" fill="#0d0d0d"/><circle cx="770.00" cy="355.50" r="1.80" fill="#0d0d0d"/>
<path d="M772.12,353.20L770.68,352.01L769.23,350.82L767.78,349.63L766.34,348.44L764.89,347.25L763.45,346.06L762.00,344.87L760.56,343.68L759.11,342.49L757.66,341.30L756.22,340.11L754.77,338.92L752.23,341.68L753.53,343.03L754.84,344.37L756.14,345.71L757.44,347.06L758.75,348.40L760.05,349.74L761.36,351.09L762.66,352.43L763.97,353.77L765.27,355.12L766.57,356.46L767.88,357.80Z" fill="#0d0d0d"/><circle cx="770.00" cy="355.50" r="3.13" fill="#0d0d0d"/><circle cx="753.50" cy="340.30" r="1.88" fill="#0d0d0d"/>
<path d="M767.63,353.45L766.23,355.23L764.84,357.01L763.44,358.78L762.05,360.56L760.65,362.34L759.25,364.11L757.86,365.89L756.46,367.67L755.07,369.44L753.67,371.22L752.27,373.00L750.88,374.77L753.72,377.23L755.28,375.59L756.83,373.95L758.38,372.31L759.94,370.67L761.49,369.03L763.05,367.39L764.60,365.75L766.15,364.11L767.71,362.47L769.26,360.83L770.82,359.19L772.37,357.55Z" fill="#0d0d0d"/><circle cx="770.00" cy="355.50" r="3.13" fill="#0d0d0d"/><circle cx="752.30" cy="376.00" r="1.88" fill="#0d0d0d"/>
<path d="M790.90,357.64L793.89,357.85L796.88,357.97L799.86,357.96L802.84,357.81L805.80,357.51L808.77,357.09L811.72,356.59L814.69,356.16L817.66,356.02L820.64,355.88L823.61,355.74L826.59,355.60L826.41,352.00L823.44,352.15L820.46,352.29L817.49,352.43L814.51,352.57L811.53,352.43L808.53,352.21L805.55,352.07L802.56,352.06L799.59,352.19L796.62,352.47L793.66,352.87L790.70,353.36Z" fill="#0d0d0d"/><circle cx="790.80" cy="355.50" r="2.14" fill="#0d0d0d"/><circle cx="826.50" cy="353.80" r="1.80" fill="#0d0d0d"/>
<path d="M828.74,351.61L827.45,350.45L826.17,349.29L824.89,348.13L823.61,346.97L822.32,345.81L821.04,344.65L819.76,343.49L818.47,342.33L817.19,341.17L815.91,340.01L814.63,338.85L813.34,337.68L810.66,340.32L811.79,341.62L812.93,342.93L814.06,344.23L815.19,345.54L816.33,346.85L817.46,348.15L818.59,349.46L819.73,350.77L820.86,352.07L822.00,353.38L823.13,354.69L824.26,355.99Z" fill="#0d0d0d"/><circle cx="826.50" cy="353.80" r="3.13" fill="#0d0d0d"/><circle cx="812.00" cy="339.00" r="1.88" fill="#0d0d0d"/>
<path d="M824.14,351.74L822.70,353.55L821.26,355.36L819.82,357.17L818.39,358.98L816.95,360.79L815.51,362.60L814.07,364.41L812.63,366.22L811.20,368.04L809.76,369.85L808.32,371.66L806.88,373.47L809.72,375.93L811.31,374.26L812.91,372.59L814.50,370.91L816.10,369.24L817.69,367.57L819.29,365.90L820.88,364.22L822.48,362.55L824.08,360.88L825.67,359.20L827.27,357.53L828.86,355.86Z" fill="#0d0d0d"/><circle cx="826.50" cy="353.80" r="3.13" fill="#0d0d0d"/><circle cx="808.30" cy="374.70" r="1.88" fill="#0d0d0d"/>
<path d="M850.68,355.93L853.11,356.43L855.54,356.83L857.98,357.11L860.43,357.24L862.89,357.23L865.36,357.09L867.83,356.87L870.30,356.73L872.75,356.87L875.20,357.01L877.65,357.15L880.10,357.30L880.30,353.70L877.85,353.56L875.40,353.42L872.95,353.28L870.50,353.14L868.07,352.71L865.64,352.21L863.21,351.79L860.77,351.50L858.32,351.34L855.86,351.34L853.39,351.45L850.92,351.67Z" fill="#0d0d0d"/><circle cx="850.80" cy="353.80" r="2.14" fill="#0d0d0d"/><circle cx="880.20" cy="355.50" r="1.80" fill="#0d0d0d"/>
<path d="M882.46,353.33L880.87,351.82L879.28,350.31L877.69,348.80L876.09,347.29L874.50,345.78L872.91,344.27L871.32,342.76L869.73,341.24L868.13,339.73L866.54,338.22L864.95,336.71L863.36,335.20L860.64,337.80L862.08,339.46L863.53,341.11L864.97,342.77L866.41,344.42L867.85,346.08L869.29,347.73L870.73,349.39L872.17,351.04L873.61,352.70L875.06,354.36L876.50,356.01L877.94,357.67Z" fill="#0d0d0d"/><circle cx="880.20" cy="355.50" r="3.13" fill="#0d0d0d"/><circle cx="862.00" cy="336.50" r="1.88" fill="#0d0d0d"/>
<path d="M877.79,353.50L876.45,355.28L875.12,357.05L873.78,358.83L872.44,360.60L871.11,362.38L869.77,364.15L868.43,365.93L867.10,367.70L865.76,369.48L864.43,371.25L863.09,373.03L861.75,374.80L864.65,377.20L866.14,375.56L867.64,373.92L869.14,372.27L870.63,370.63L872.13,368.99L873.63,367.35L875.13,365.71L876.62,364.07L878.12,362.42L879.62,360.78L881.11,359.14L882.61,357.50Z" fill="#0d0d0d"/><circle cx="880.20" cy="355.50" r="3.13" fill="#0d0d0d"/><circle cx="863.20" cy="376.00" r="1.88" fill="#0d0d0d"/>
<text x="243" y="426" font-size="19.5" text-anchor="start" ><tspan class="g" font-family="Liberation Serif" font-style="italic">β</tspan></text>
<text x="254.5" y="426" font-size="19.5" text-anchor="start" >−</text>
<text x="266.3" y="426" font-size="19.8" text-anchor="start" >Amyloid</text>
<text x="662" y="426.5" font-size="19.5" text-anchor="start" letter-spacing="0.68">slow fibirllation</text>
<text x="873" y="426.5" font-size="19.5" text-anchor="start" >Amyloid</text>
<text x="965" y="426.5" font-size="19.5" text-anchor="start" letter-spacing="0.6">firbils</text>
<path d="M802.3,218 C796.2,221.4 795.5,235.1 805,237.9 L822.8,237.9" fill="none" stroke="#E6392F" stroke-width="2.0" stroke-linecap="round"/>
<path d="M813.2,226.9 C803,237 803,248 817.3,248.8" fill="none" stroke="#E6392F" stroke-width="2.0" stroke-linecap="round"/>
<path d="M822.8,236.5 C816,245 816,256 828.3,258.4" fill="none" stroke="#E6392F" stroke-width="2.0" stroke-linecap="round"/>
<path d="M926.1,240.1L836.1,254.0L835.7,251.3L826.9,259.7L837.9,265.1L837.4,262.4L927.3,248.5Z" fill="#E04B4B" stroke="#E6392F" stroke-width="1.3" stroke-linejoin="round"/>
<path d="M914.5,227.7L826.3,240.7L826.0,238.3L818.0,246.0L827.9,251.1L827.5,248.6L915.7,235.7Z" fill="#E04B4B" stroke="#E6392F" stroke-width="1.3" stroke-linejoin="round"/>
<path d="M906.2,217.5L830.2,231.7L829.7,229.0L822.0,237.0L832.0,241.7L831.5,239.0L907.6,224.9Z" fill="#E04B4B" stroke="#E6392F" stroke-width="1.3" stroke-linejoin="round"/>
<path d="M825.4,241.0L877.0,223.2L877.9,225.8L884.3,216.7L873.7,213.5L874.6,216.1L823.0,234.0Z" fill="#E04B4B" stroke="#E6392F" stroke-width="1.3" stroke-linejoin="round"/>
<path d="M815.1,231.2L866.0,214.2L866.9,216.8L873.4,207.8L862.8,204.5L863.7,207.1L812.7,224.0Z" fill="#E04B4B" stroke="#E6392F" stroke-width="1.3" stroke-linejoin="round"/>
<path d="M803.9,220.5L855.1,204.5L855.9,206.9L862.5,198.0L852.0,194.5L852.7,196.9L801.5,212.9Z" fill="#E04B4B" stroke="#E6392F" stroke-width="1.3" stroke-linejoin="round"/>
<path d="M953,303 C962,297 970,302 968,312 C967,320 966,326 962,330" fill="none" stroke="#EC807C" stroke-width="1.6" stroke-linecap="round"/>
<path d="M961,311 C971,306 979,311 977,322 C976,330 974,334 970,338" fill="none" stroke="#EC807C" stroke-width="1.6" stroke-linecap="round"/>
<path d="M970,320 C981,314 990,322 986,333 C983,340 978,342 972,342" fill="none" stroke="#EC807C" stroke-width="1.6" stroke-linecap="round"/>
<path d="M902,338 C891,340 887,350 893,356 C898,361 912,360 925,358" fill="none" stroke="#EC807C" stroke-width="1.6" stroke-linecap="round"/>
<path d="M911,345 C900,348 896,357 902,364 C907,368 918,368 927,367" fill="none" stroke="#EC807C" stroke-width="1.6" stroke-linecap="round"/>
<path d="M918,353 C908,357 905,366 910,372 C914,377 922,377 929,376" fill="none" stroke="#EC807C" stroke-width="1.6" stroke-linecap="round"/>
<path d="M1017.9,355.3L934.3,370.8L933.8,368.1L927.0,375.5L936.0,379.9L935.5,377.2L1019.1,361.7Z" fill="#F8BC90" stroke="#EC807C" stroke-width="1.2" stroke-linejoin="round"/>
<path d="M1007.9,347.3L934.3,361.3L933.7,358.6L927.0,366.0L936.0,370.4L935.5,367.7L1009.1,353.7Z" fill="#F8BC90" stroke="#EC807C" stroke-width="1.2" stroke-linejoin="round"/>
<path d="M998.8,338.3L932.1,352.6L931.6,350.0L925.0,357.5L934.1,361.7L933.5,359.0L1000.2,344.7Z" fill="#F8BC90" stroke="#EC807C" stroke-width="1.2" stroke-linejoin="round"/>
<path d="M919.0,356.6L965.9,345.9L966.5,348.6L973.0,341.0L963.9,336.9L964.5,339.6L917.6,350.2Z" fill="#F8BC90" stroke="#EC807C" stroke-width="1.2" stroke-linejoin="round"/>
<path d="M911.2,347.7L967.0,341.6L967.3,344.3L974.6,337.5L966.0,332.4L966.3,335.1L910.4,341.3Z" fill="#F8BC90" stroke="#EC807C" stroke-width="1.2" stroke-linejoin="round"/>
<path d="M901.7,341.0L958.9,333.8L959.2,336.6L966.4,329.6L957.7,324.6L958.1,327.4L900.9,334.6Z" fill="#F8BC90" stroke="#EC807C" stroke-width="1.2" stroke-linejoin="round"/>
<path d="M968.7,317.0L940.3,327.2L939.4,324.6L933.9,333.0L943.5,335.9L942.5,333.4L970.9,323.2Z" fill="#F8BC90" stroke="#EC807C" stroke-width="1.2" stroke-linejoin="round"/>
<path d="M959.9,309.0L930.8,319.7L929.8,317.1L924.4,325.5L934.0,328.4L933.0,325.8L962.1,315.0Z" fill="#F8BC90" stroke="#EC807C" stroke-width="1.2" stroke-linejoin="round"/>
<path d="M951.8,300.7L922.0,311.0L921.1,308.4L915.5,316.7L925.0,319.8L924.1,317.2L954.0,306.9Z" fill="#F8BC90" stroke="#EC807C" stroke-width="1.2" stroke-linejoin="round"/>
<path d="M214.8,583.0Q219.6,595.6 236.4,599.2Q237.4,595.6 237.7,583.0Q239.7,594.3 246.9,597.5Q253.8,589.0 255.7,558.8Q257.6,589.3 264.5,597.9Q272.1,593.7 274.2,579.0Q275.0,593.4 277.7,597.5Q291.7,594.1 295.7,582.1Q293.9,592.7 287.3,595.7Q286.4,608.0 283.0,611.5Q285.1,617.7 292.6,619.4Q291.1,622.2 285.6,623.0Q284.2,633.9 279.4,637.0Q256.5,636.8 250.0,636.0Q231.1,634.5 225.8,629.0Q220.3,626.5 218.8,617.7Q227.7,617.5 230.2,616.8Q228.2,613.3 227.6,601.0Q217.6,597.0 214.8,583.0Z" fill="#E3DB6F"/><path d="M214.8,583.0Q219.6,595.6 236.4,599.2Q237.4,595.6 237.7,583.0Q239.7,594.3 246.9,597.5Q253.8,589.0 255.7,558.8Q257.6,589.3 264.5,597.9Q272.1,593.7 274.2,579.0Q275.0,593.4 277.7,597.5Q291.7,594.1 295.7,582.1Q293.9,592.7 287.3,595.7Q286.4,608.0 283.0,611.5Q285.1,617.7 292.6,619.4Q291.1,622.2 285.6,623.0" fill="none" stroke="#EE7472" stroke-width="2.4" stroke-linejoin="round" stroke-linecap="round"/><path d="M390.5,603.4Q396.7,613.9 418.7,616.9Q419.6,613.9 419.8,603.4Q422.6,613.5 432.7,616.3Q440.0,608.2 442.1,579.4Q444.9,608.6 455.0,616.9Q464.1,613.0 466.7,599.3Q467.2,613.0 469.0,616.9Q489.1,613.5 494.8,601.6Q491.5,618.1 479.6,622.7Q479.3,631.0 478.4,633.3Q481.0,637.8 490.2,639.1Q488.4,643.7 482.0,645.0Q482.5,650.5 484.3,652.0Q480.9,660.3 469.0,662.6Q467.5,663.5 462.0,663.8Q430.0,661.0 421.0,650.9Q413.7,649.6 411.6,645.0Q410.7,642.4 410.5,633.3Q406.8,630.2 405.8,619.2Q393.9,615.7 390.5,603.4Z" fill="#E3DB6F"/><path d="M390.5,603.4Q396.7,613.9 418.7,616.9Q419.6,613.9 419.8,603.4Q422.6,613.5 432.7,616.3Q440.0,608.2 442.1,579.4Q444.9,608.6 455.0,616.9Q464.1,613.0 466.7,599.3Q467.2,613.0 469.0,616.9Q489.1,613.5 494.8,601.6Q491.5,618.1 479.6,622.7Q479.3,631.0 478.4,633.3Q481.0,637.8 490.2,639.1Q488.4,643.7 482.0,645.0" fill="none" stroke="#EE7472" stroke-width="2.4" stroke-linejoin="round" stroke-linecap="round"/>
<path d="M9.8,483.9L10.0,488.4L10.2,492.9L10.4,497.4L10.6,501.9L10.8,506.4L11.0,510.9L11.2,515.4L11.5,519.9L11.7,524.4L11.9,528.9L13.3,528.9L13.6,524.4L13.7,519.9L13.8,515.4L13.7,510.8L13.5,506.3L13.2,501.8L12.8,497.3L12.2,492.7L11.6,488.2L10.8,483.8Z M5.0,483.3L3.9,487.6L3.0,491.9L2.2,496.2L1.7,500.6L1.3,504.9L1.2,509.3L1.2,513.6L1.4,518.0L1.8,522.3L2.3,526.6L3.7,526.5L3.6,522.2L3.6,517.9L3.7,513.6L3.8,509.3L4.0,505.1L4.3,500.8L4.6,496.5L5.0,492.2L5.5,487.9L6.0,483.5Z M28.4,482.6L28.8,487.7L29.1,492.7L29.4,497.7L29.7,502.8L30.0,507.8L30.3,512.8L30.5,517.8L30.7,522.8L31.0,527.8L31.2,532.8L32.5,532.8L32.8,527.8L33.0,522.8L33.0,517.7L32.9,512.7L32.7,507.6L32.3,502.6L31.8,497.5L31.2,492.5L30.4,487.5L29.4,482.5Z M23.6,482.9L23.0,487.6L22.4,492.4L22.0,497.1L21.6,501.9L21.3,506.7L21.0,511.4L20.9,516.2L20.8,521.0L20.8,525.7L20.8,530.5L22.2,530.6L22.6,525.8L23.0,521.1L23.4,516.3L23.7,511.6L24.0,506.8L24.2,502.1L24.4,497.3L24.5,492.5L24.6,487.7L24.6,483.0Z M46.5,483.4L46.5,488.1L46.5,492.7L46.5,497.4L46.6,502.0L46.7,506.7L46.8,511.3L46.9,516.0L47.1,520.6L47.3,525.3L47.5,529.9L48.9,529.9L49.2,525.3L49.4,520.6L49.5,515.9L49.5,511.3L49.4,506.6L49.2,502.0L48.9,497.3L48.6,492.6L48.1,488.0L47.5,483.3Z M41.8,482.3L40.6,487.1L39.5,491.9L38.7,496.8L37.9,501.7L37.3,506.6L36.9,511.5L36.6,516.4L36.4,521.3L36.4,526.2L36.5,531.1L37.9,531.1L38.3,526.3L38.7,521.4L39.1,516.6L39.5,511.7L40.0,506.8L40.5,502.0L41.0,497.1L41.6,492.3L42.2,487.4L42.8,482.5Z M64.9,481.2L64.8,486.4L64.7,491.5L64.5,496.6L64.3,501.7L64.1,506.8L63.9,511.9L63.7,517.0L63.5,522.1L63.2,527.2L62.9,532.3L64.3,532.4L65.1,527.3L65.7,522.2L66.2,517.1L66.6,512.0L66.8,506.9L66.9,501.7L66.9,496.6L66.7,491.5L66.4,486.3L65.9,481.2Z M60.1,481.5L58.5,486.3L57.1,491.1L55.9,496.0L54.9,500.9L54.1,505.8L53.4,510.7L53.0,515.7L52.8,520.6L52.8,525.6L53.0,530.5L54.4,530.5L54.7,525.6L55.1,520.7L55.5,515.9L56.1,511.0L56.7,506.2L57.4,501.3L58.2,496.5L59.1,491.6L60.1,486.7L61.1,481.8Z M83.6,485.8L83.3,490.5L83.1,495.1L83.0,499.8L82.9,504.5L82.8,509.1L82.9,513.8L83.0,518.5L83.1,523.2L83.3,527.8L83.5,532.5L84.9,532.5L85.2,527.8L85.4,523.1L85.5,518.5L85.5,513.8L85.5,509.1L85.5,504.5L85.4,499.8L85.2,495.1L84.9,490.5L84.6,485.8Z M78.8,484.8L77.8,489.2L76.9,493.7L76.1,498.2L75.4,502.7L74.8,507.2L74.2,511.7L73.7,516.2L73.3,520.7L73.0,525.2L72.8,529.8L74.2,529.9L74.9,525.4L75.6,521.0L76.2,516.5L76.9,512.0L77.4,507.5L78.0,503.0L78.5,498.5L79.0,494.0L79.4,489.5L79.8,485.0Z M102.2,488.0L102.1,492.9L102.0,497.7L101.9,502.4L101.7,507.2L101.5,511.9L101.2,516.7L100.9,521.4L100.5,526.1L100.1,530.8L99.6,535.5L101.0,535.8L102.0,531.1L102.7,526.4L103.4,521.6L103.8,516.8L104.1,512.1L104.3,507.3L104.3,502.4L104.1,497.6L103.7,492.8L103.2,488.0Z M97.5,487.2L95.9,491.5L94.5,495.9L93.3,500.4L92.2,504.9L91.2,509.4L90.4,513.9L89.7,518.4L89.2,523.0L88.8,527.6L88.6,532.1L89.9,532.3L90.7,527.8L91.4,523.3L92.2,518.8L93.0,514.3L93.9,509.9L94.7,505.4L95.6,500.9L96.5,496.4L97.5,492.0L98.4,487.4Z M119.7,490.4L118.8,495.1L118.0,499.9L117.3,504.6L116.6,509.4L115.9,514.1L115.3,518.9L114.8,523.7L114.3,528.5L113.9,533.3L113.5,538.1L114.9,538.3L115.8,533.5L116.6,528.8L117.3,524.0L118.0,519.2L118.6,514.5L119.1,509.7L119.6,504.9L120.1,500.1L120.4,495.3L120.7,490.5Z M115.0,489.5L113.4,494.0L111.9,498.6L110.4,503.2L109.0,507.8L107.8,512.4L106.5,517.1L105.4,521.8L104.3,526.4L103.3,531.1L102.4,535.9L103.8,536.2L105.2,531.6L106.5,527.0L107.8,522.4L109.1,517.8L110.4,513.1L111.6,508.5L112.7,503.8L113.8,499.2L114.9,494.5L115.9,489.8Z M133.5,492.5L132.6,497.5L131.7,502.4L130.8,507.4L129.9,512.4L129.0,517.3L128.1,522.2L127.2,527.2L126.3,532.1L125.4,537.1L124.5,542.0L125.8,542.3L127.2,537.5L128.5,532.6L129.7,527.7L130.7,522.7L131.7,517.8L132.5,512.8L133.2,507.8L133.7,502.7L134.2,497.7L134.5,492.6Z M129.1,490.4L126.9,495.1L124.8,499.7L122.9,504.5L121.1,509.2L119.4,514.0L117.9,518.9L116.5,523.8L115.3,528.7L114.2,533.6L113.3,538.6L114.6,538.9L116.0,534.1L117.5,529.3L119.0,524.5L120.5,519.7L122.0,514.9L123.6,510.1L125.1,505.3L126.7,500.5L128.4,495.6L130.0,490.8Z M145.2,496.4L143.3,501.0L141.5,505.7L139.7,510.5L138.0,515.2L136.4,520.0L134.8,524.8L133.3,529.6L131.9,534.4L130.5,539.3L129.2,544.1L130.5,544.6L132.3,539.9L134.1,535.1L135.7,530.4L137.4,525.6L139.0,520.8L140.5,516.0L142.0,511.2L143.4,506.4L144.8,501.5L146.1,496.7Z M140.4,495.3L138.3,499.5L136.3,503.7L134.4,507.9L132.5,512.2L130.7,516.5L128.9,520.8L127.3,525.2L125.7,529.5L124.2,533.9L122.7,538.4L124.0,538.9L125.9,534.6L127.8,530.4L129.6,526.1L131.4,521.8L133.2,517.5L134.9,513.2L136.6,508.9L138.2,504.5L139.8,500.1L141.3,495.7Z M158.3,502.0L156.8,506.8L155.3,511.6L153.8,516.4L152.1,521.1L150.4,525.8L148.6,530.5L146.7,535.1L144.7,539.7L142.7,544.2L140.6,548.8L141.8,549.4L144.4,545.1L146.8,540.6L149.0,536.1L151.1,531.5L152.9,526.8L154.6,522.0L156.1,517.1L157.3,512.2L158.4,507.2L159.3,502.2Z M154.2,499.3L151.5,503.6L149.0,507.9L146.5,512.3L144.2,516.7L141.9,521.1L139.7,525.6L137.7,530.2L135.7,534.8L133.8,539.4L132.0,544.1L133.3,544.6L135.5,540.2L137.7,535.7L139.9,531.3L142.1,526.8L144.3,522.3L146.5,517.8L148.7,513.3L150.8,508.8L153.0,504.3L155.1,499.8Z M172.2,509.5L170.2,513.8L168.4,518.2L166.6,522.5L164.8,526.9L163.2,531.4L161.5,535.8L160.0,540.3L158.5,544.8L157.1,549.3L155.7,553.9L157.0,554.3L158.8,550.0L160.6,545.6L162.4,541.2L164.0,536.7L165.7,532.3L167.3,527.8L168.8,523.4L170.3,518.9L171.8,514.4L173.1,509.8Z M168.2,506.6L165.8,510.8L163.3,515.1L161.0,519.3L158.7,523.6L156.4,528.0L154.2,532.3L152.0,536.7L149.9,541.1L147.9,545.5L145.9,550.0L147.1,550.6L149.5,546.4L151.9,542.1L154.3,537.8L156.6,533.5L158.8,529.2L161.0,524.8L163.1,520.4L165.2,516.0L167.2,511.5L169.1,507.0Z M190.8,515.0L189.6,519.8L188.5,524.6L187.2,529.3L185.9,534.0L184.6,538.7L183.2,543.4L181.7,548.0L180.1,552.6L178.5,557.2L176.8,561.8L178.1,562.4L180.3,558.0L182.2,553.4L184.1,548.8L185.7,544.2L187.2,539.5L188.4,534.7L189.6,529.9L190.5,525.0L191.2,520.1L191.8,515.1Z M186.1,513.7L183.6,517.8L181.4,521.9L179.3,526.1L177.4,530.4L175.7,534.8L174.2,539.3L172.9,543.8L171.7,548.3L170.8,552.9L170.1,557.6L171.5,557.9L172.7,553.4L173.9,548.9L175.3,544.5L176.7,540.1L178.2,535.7L179.8,531.4L181.5,527.1L183.2,522.8L185.1,518.5L187.0,514.2Z M207.6,522.8L206.2,527.3L204.8,531.8L203.4,536.3L202.0,540.7L200.6,545.2L199.1,549.6L197.7,554.1L196.3,558.5L194.8,563.0L193.4,567.4L194.6,567.9L196.6,563.6L198.4,559.3L200.1,554.9L201.7,550.5L203.1,546.0L204.5,541.5L205.7,536.9L206.8,532.3L207.8,527.7L208.6,523.0Z M203.2,521.0L200.5,525.0L197.9,529.0L195.5,533.2L193.2,537.3L191.0,541.6L189.0,545.9L187.1,550.3L185.4,554.7L183.8,559.2L182.3,563.7L183.6,564.2L185.5,559.8L187.5,555.6L189.4,551.3L191.4,547.0L193.4,542.8L195.5,538.5L197.6,534.3L199.7,530.1L201.8,525.8L204.0,521.6Z M224.9,528.8L223.1,533.1L221.4,537.5L219.7,541.9L218.1,546.3L216.4,550.7L214.8,555.1L213.2,559.5L211.6,564.0L210.1,568.4L208.6,572.8L209.9,573.3L211.9,569.1L213.8,564.8L215.6,560.4L217.3,556.1L219.0,551.7L220.5,547.2L222.0,542.7L223.4,538.2L224.6,533.7L225.8,529.1Z M220.7,526.5L217.8,530.7L215.0,535.0L212.4,539.4L209.9,543.9L207.5,548.4L205.2,553.0L203.1,557.6L201.1,562.3L199.2,567.1L197.4,571.9L198.7,572.4L200.9,567.8L203.1,563.3L205.4,558.7L207.6,554.2L209.9,549.6L212.2,545.1L214.5,540.6L216.8,536.0L219.2,531.5L221.5,527.0Z M240.6,539.0L238.8,543.2L237.0,547.4L235.3,551.6L233.5,555.8L231.8,560.0L230.1,564.2L228.3,568.4L226.6,572.5L224.8,576.7L223.1,580.9L224.3,581.5L226.5,577.5L228.6,573.5L230.6,569.4L232.5,565.2L234.3,561.0L236.0,556.8L237.5,552.5L239.0,548.1L240.3,543.7L241.5,539.3Z M236.0,537.4L233.6,541.4L231.3,545.4L229.0,549.4L226.8,553.5L224.6,557.6L222.5,561.7L220.5,565.8L218.4,570.0L216.5,574.2L214.6,578.5L215.8,579.1L218.2,575.1L220.5,571.1L222.7,567.0L224.9,562.9L227.0,558.8L229.1,554.7L231.1,550.5L233.1,546.3L235.0,542.1L236.9,537.8Z M256.7,549.2L255.0,553.4L253.2,557.7L251.4,561.9L249.6,566.1L247.7,570.2L245.8,574.4L243.9,578.5L241.9,582.6L240.0,586.7L237.9,590.7L239.1,591.4L241.6,587.6L244.0,583.6L246.2,579.6L248.2,575.5L250.2,571.3L252.0,567.1L253.6,562.8L255.1,558.4L256.5,554.0L257.7,549.5Z M252.4,547.1L250.0,550.4L247.6,553.7L245.2,557.1L243.0,560.5L240.7,563.9L238.6,567.3L236.4,570.8L234.4,574.4L232.3,577.9L230.4,581.5L231.5,582.3L233.9,578.9L236.3,575.6L238.6,572.2L240.8,568.8L243.0,565.3L245.2,561.8L247.3,558.3L249.3,554.8L251.3,551.2L253.3,547.6Z M271.8,558.4L270.1,562.3L268.5,566.1L266.9,569.9L265.2,573.7L263.6,577.4L261.9,581.2L260.2,584.9L258.5,588.6L256.8,592.3L255.1,596.1L256.3,596.7L258.5,593.2L260.5,589.7L262.5,586.0L264.3,582.3L266.1,578.5L267.6,574.7L269.1,570.8L270.5,566.8L271.7,562.8L272.7,558.7Z M267.9,555.5L265.2,558.8L262.6,562.3L260.2,565.8L257.7,569.3L255.4,572.9L253.2,576.6L251.0,580.3L249.0,584.0L247.0,587.8L245.1,591.7L246.4,592.4L248.7,588.8L250.9,585.2L253.2,581.6L255.5,578.0L257.7,574.4L259.9,570.7L262.2,567.1L264.4,563.4L266.6,559.7L268.7,556.0Z M313.0,585.4L311.1,589.7L309.2,594.1L307.3,598.4L305.4,602.6L303.4,606.9L301.4,611.1L299.4,615.3L297.4,619.5L295.3,623.7L293.2,627.9L294.4,628.6L297.0,624.6L299.4,620.6L301.7,616.5L303.9,612.3L305.9,608.0L307.8,603.7L309.5,599.3L311.2,594.8L312.6,590.3L314.0,585.7Z M309.1,582.5L305.8,586.4L302.7,590.3L299.7,594.3L296.9,598.4L294.2,602.6L291.7,606.9L289.3,611.3L287.1,615.7L285.0,620.2L283.1,624.8L284.3,625.4L286.7,621.1L289.1,616.8L291.5,612.5L294.0,608.3L296.5,604.1L299.1,599.8L301.7,595.7L304.4,591.5L307.1,587.3L309.9,583.1Z M330.8,594.1L329.7,599.4L328.5,604.7L327.3,609.9L326.1,615.1L324.7,620.3L323.4,625.5L321.9,630.7L320.5,635.9L318.9,641.0L317.4,646.2L318.7,646.6L320.7,641.6L322.6,636.6L324.4,631.4L325.9,626.2L327.3,621.0L328.6,615.7L329.7,610.4L330.6,605.0L331.3,599.7L331.8,594.2Z M326.2,592.8L324.2,597.8L322.3,602.7L320.5,607.7L318.7,612.7L317.0,617.7L315.4,622.7L313.8,627.8L312.3,632.9L310.8,638.0L309.4,643.1L310.7,643.5L312.6,638.5L314.4,633.6L316.2,628.6L317.9,623.6L319.6,618.5L321.2,613.5L322.7,608.4L324.3,603.4L325.7,598.3L327.1,593.2Z M346.1,605.6L344.4,610.7L342.7,615.7L341.0,620.7L339.3,625.7L337.6,630.7L335.8,635.7L334.1,640.7L332.3,645.6L330.5,650.6L328.7,655.5L329.9,656.1L332.2,651.3L334.4,646.5L336.4,641.6L338.4,636.6L340.1,631.6L341.8,626.5L343.3,621.5L344.7,616.3L345.9,611.1L347.0,605.9Z M341.7,603.6L338.9,607.8L336.2,612.1L333.7,616.4L331.3,620.8L329.1,625.3L327.0,629.8L325.0,634.4L323.2,639.1L321.6,643.8L320.1,648.5L321.4,649.0L323.4,644.4L325.3,639.9L327.4,635.4L329.4,630.9L331.5,626.5L333.7,622.0L335.8,617.5L338.0,613.1L340.3,608.6L342.6,604.1Z M362.6,612.0L361.3,616.9L359.9,621.8L358.5,626.7L357.0,631.5L355.4,636.3L353.8,641.1L352.1,645.8L350.3,650.5L348.5,655.1L346.6,659.8L347.8,660.4L350.2,655.9L352.4,651.4L354.5,646.7L356.3,642.0L358.0,637.2L359.5,632.3L360.8,627.3L361.9,622.3L362.9,617.3L363.6,612.2Z M358.4,609.7L355.2,614.3L352.3,619.0L349.5,623.8L346.8,628.7L344.4,633.6L342.1,638.6L339.9,643.7L338.0,648.8L336.2,654.1L334.6,659.3L335.9,659.8L338.0,654.7L340.1,649.7L342.3,644.7L344.5,639.7L346.8,634.7L349.2,629.8L351.6,624.9L354.1,620.0L356.6,615.1L359.2,610.3Z M376.6,624.9L374.3,629.6L372.0,634.4L369.7,639.1L367.5,643.8L365.3,648.6L363.1,653.3L360.9,658.0L358.7,662.8L356.5,667.5L354.3,672.3L355.5,673.0L358.1,668.4L360.7,663.8L363.1,659.2L365.5,654.5L367.7,649.7L369.9,644.9L371.9,640.1L373.9,635.2L375.7,630.3L377.5,625.3Z M372.3,622.7L369.4,626.6L366.6,630.5L363.9,634.4L361.3,638.5L358.8,642.5L356.4,646.7L354.0,650.8L351.8,655.0L349.6,659.3L347.5,663.6L348.7,664.2L351.3,660.2L353.8,656.1L356.2,652.1L358.7,648.0L361.1,643.9L363.6,639.8L366.0,635.7L368.4,631.6L370.8,627.4L373.1,623.3Z M392.5,636.2L390.5,641.1L388.6,645.9L386.7,650.7L384.7,655.5L382.7,660.3L380.7,665.0L378.6,669.8L376.6,674.5L374.5,679.2L372.4,683.9L373.6,684.6L376.2,680.1L378.6,675.5L380.9,670.8L383.1,666.1L385.2,661.3L387.1,656.5L388.9,651.6L390.5,646.6L392.1,641.6L393.4,636.5Z M388.2,634.1L385.1,638.8L382.2,643.5L379.3,648.3L376.5,653.1L373.8,658.0L371.1,662.9L368.5,667.8L366.0,672.8L363.5,677.8L361.1,682.8L362.3,683.4L365.2,678.6L368.0,673.8L370.7,669.0L373.4,664.2L376.1,659.3L378.8,654.4L381.4,649.5L384.0,644.6L386.5,639.6L389.0,634.6Z M405.2,647.9L402.4,653.0L399.7,658.2L397.1,663.4L394.5,668.6L391.9,673.9L389.5,679.1L387.0,684.5L384.7,689.8L382.4,695.2L380.1,700.6L381.4,701.1L384.1,696.0L386.7,690.8L389.3,685.5L391.9,680.3L394.4,675.0L396.8,669.7L399.2,664.4L401.6,659.1L403.9,653.7L406.1,648.3Z M400.9,645.7L397.7,650.7L394.6,655.7L391.6,660.7L388.6,665.8L385.8,670.9L383.0,676.1L380.2,681.3L377.6,686.5L375.0,691.8L372.5,697.1L373.8,697.8L376.7,692.7L379.6,687.6L382.5,682.5L385.3,677.3L388.1,672.2L390.9,667.0L393.7,661.9L396.4,656.7L399.1,651.5L401.8,646.2Z M439.6,690.4L435.5,693.7L431.5,696.9L427.4,700.2L423.3,703.4L419.3,706.6L415.2,709.8L411.1,713.0L407.0,716.2L403.0,719.4L398.9,722.6L399.6,723.7L404.1,721.0L408.4,718.1L412.6,715.1L416.8,711.9L420.9,708.7L425.0,705.4L428.9,702.0L432.8,698.5L436.6,694.9L440.3,691.1Z M437.4,686.1L433.0,688.5L428.7,691.0L424.5,693.5L420.2,696.1L416.1,698.7L411.9,701.4L407.8,704.1L403.7,706.8L399.6,709.7L395.6,712.6L396.4,713.7L400.7,711.3L404.9,708.8L409.1,706.2L413.3,703.6L417.5,701.0L421.6,698.3L425.8,695.5L429.8,692.7L433.9,689.9L437.9,687.0Z M452.5,704.5L448.9,708.6L445.2,712.6L441.5,716.6L437.8,720.5L434.0,724.3L430.2,728.1L426.2,731.8L422.3,735.5L418.2,739.0L414.1,742.6L415.0,743.7L419.4,740.5L423.7,737.2L427.9,733.7L432.0,730.1L435.9,726.3L439.7,722.3L443.3,718.2L446.8,714.0L450.2,709.6L453.3,705.1Z M449.2,701.1L444.3,703.7L439.5,706.6L434.8,709.5L430.3,712.7L425.9,716.0L421.6,719.4L417.5,723.0L413.4,726.7L409.6,730.6L405.8,734.6L406.8,735.6L410.9,732.0L415.0,728.4L419.1,724.9L423.3,721.5L427.6,718.1L431.9,714.8L436.2,711.5L440.6,708.3L445.1,705.1L449.7,701.9Z M462.7,719.4L459.0,722.5L455.4,725.6L451.9,728.7L448.3,731.8L444.8,735.0L441.2,738.1L437.7,741.3L434.3,744.5L430.8,747.7L427.4,751.0L428.2,752.0L432.0,749.2L435.8,746.2L439.4,743.2L443.0,740.1L446.6,737.0L450.1,733.7L453.5,730.5L456.8,727.1L460.2,723.7L463.4,720.2Z M460.1,715.4L455.5,717.9L450.9,720.5L446.5,723.3L442.1,726.1L437.8,729.1L433.6,732.2L429.4,735.4L425.4,738.7L421.4,742.1L417.5,745.6L418.4,746.7L422.6,743.6L426.8,740.5L431.0,737.4L435.2,734.4L439.4,731.3L443.6,728.3L447.8,725.3L452.1,722.3L456.3,719.3L460.6,716.2Z M475.1,734.5L471.1,737.8L467.1,741.0L463.0,744.2L459.0,747.4L455.0,750.5L450.9,753.6L446.8,756.7L442.7,759.7L438.6,762.7L434.4,765.7L435.2,766.9L439.6,764.3L444.0,761.6L448.3,758.7L452.5,755.7L456.6,752.6L460.7,749.4L464.6,746.0L468.4,742.6L472.1,739.0L475.7,735.2Z M472.5,730.4L467.8,732.5L463.2,734.7L458.7,737.1L454.3,739.6L450.0,742.3L445.8,745.1L441.6,748.1L437.6,751.2L433.7,754.5L430.0,757.9L430.8,758.9L434.9,756.0L439.0,753.0L443.1,750.2L447.3,747.3L451.4,744.6L455.7,741.8L459.9,739.2L464.2,736.5L468.5,733.9L472.9,731.3Z M482.8,750.9L478.4,753.3L474.1,755.9L469.9,758.5L465.6,761.1L461.4,763.7L457.2,766.4L453.0,769.1L448.9,771.8L444.8,774.6L440.6,777.4L441.4,778.5L445.7,776.2L450.1,773.7L454.4,771.2L458.6,768.6L462.9,766.0L467.0,763.3L471.2,760.5L475.3,757.6L479.3,754.7L483.3,751.7Z M479.9,746.9L475.0,748.6L470.1,750.5L465.2,752.6L460.5,754.8L455.9,757.1L451.3,759.7L446.8,762.3L442.4,765.2L438.2,768.2L434.0,771.3L434.8,772.4L439.2,769.7L443.6,767.1L448.1,764.5L452.6,762.0L457.1,759.5L461.7,757.1L466.3,754.7L470.9,752.4L475.6,750.1L480.3,747.9Z M492.7,768.1L488.4,770.8L484.3,773.6L480.1,776.4L476.0,779.3L472.0,782.2L467.9,785.1L463.9,788.0L459.9,791.0L455.9,794.1L452.0,797.1L452.8,798.3L457.0,795.6L461.2,792.9L465.4,790.1L469.5,787.2L473.5,784.3L477.6,781.4L481.6,778.4L485.5,775.3L489.4,772.1L493.2,768.9Z M490.0,764.1L485.6,765.9L481.3,767.8L477.0,769.9L472.8,772.1L468.7,774.4L464.6,776.8L460.6,779.3L456.7,782.0L452.8,784.7L449.1,787.6L449.9,788.8L453.9,786.3L457.9,783.9L461.9,781.5L466.0,779.1L470.0,776.7L474.1,774.4L478.1,772.0L482.2,769.7L486.3,767.3L490.4,765.0Z M499.8,783.3L495.9,786.4L492.0,789.4L488.0,792.3L484.1,795.2L480.1,797.9L476.0,800.6L471.9,803.1L467.8,805.7L463.5,808.1L459.3,810.5L459.9,811.7L464.4,809.8L468.8,807.6L473.2,805.3L477.4,802.8L481.6,800.1L485.6,797.3L489.5,794.2L493.3,791.0L496.9,787.6L500.4,784.1Z M497.7,779.0L493.6,780.9L489.6,782.9L485.7,785.0L481.7,787.1L477.8,789.3L473.9,791.5L470.1,793.8L466.3,796.1L462.5,798.5L458.7,800.9L459.4,802.1L463.4,800.1L467.4,798.1L471.3,796.0L475.3,793.8L479.1,791.6L483.0,789.4L486.8,787.1L490.6,784.7L494.4,782.3L498.2,779.9Z M510.0,802.2L506.5,804.8L503.0,807.4L499.6,810.0L496.1,812.6L492.6,815.1L489.1,817.7L485.6,820.2L482.1,822.7L478.6,825.2L475.1,827.7L475.8,828.9L479.7,826.8L483.4,824.6L487.1,822.3L490.7,819.8L494.2,817.3L497.6,814.6L501.0,811.9L504.3,809.0L507.6,806.1L510.7,803.0Z M508.2,797.7L503.8,799.3L499.5,801.0L495.3,802.8L491.1,804.8L487.1,806.9L483.1,809.1L479.1,811.5L475.3,814.0L471.6,816.6L467.9,819.4L468.7,820.5L472.6,818.2L476.5,815.9L480.4,813.7L484.4,811.4L488.3,809.2L492.3,807.1L496.3,804.9L500.4,802.8L504.4,800.7L508.5,798.7Z M521.7,822.0L518.2,824.6L514.6,827.3L511.1,829.8L507.6,832.4L504.0,834.9L500.5,837.3L496.9,839.7L493.3,842.1L489.6,844.5L486.0,846.8L486.6,848.0L490.6,846.1L494.4,844.1L498.2,841.9L501.9,839.5L505.6,837.1L509.1,834.5L512.6,831.7L515.9,828.9L519.2,825.9L522.3,822.7Z M519.1,817.9L514.8,819.8L510.5,821.7L506.2,823.8L502.0,826.0L497.9,828.2L493.8,830.6L489.8,833.0L485.8,835.6L481.9,838.2L478.0,841.0L478.8,842.1L482.9,839.8L487.0,837.5L491.1,835.2L495.1,832.9L499.2,830.6L503.3,828.2L507.3,825.9L511.4,823.6L515.5,821.2L519.6,818.8Z M532.9,837.2L528.9,839.6L525.0,842.0L521.1,844.5L517.2,846.9L513.2,849.3L509.3,851.7L505.4,854.2L501.5,856.6L497.6,859.1L493.7,861.5L494.4,862.7L498.5,860.7L502.7,858.6L506.7,856.4L510.7,854.0L514.7,851.6L518.6,849.1L522.4,846.5L526.2,843.7L529.9,840.9L533.5,838.0Z M530.4,833.1L525.7,834.6L521.0,836.3L516.4,838.2L511.9,840.2L507.4,842.3L503.0,844.5L498.7,846.9L494.5,849.4L490.3,852.0L486.2,854.8L487.0,856.0L491.3,853.7L495.6,851.4L499.9,849.1L504.3,846.9L508.6,844.7L513.0,842.5L517.4,840.4L521.8,838.2L526.3,836.1L530.8,834.0Z M542.2,854.0L538.2,856.5L534.3,859.0L530.3,861.5L526.4,864.1L522.5,866.6L518.6,869.2L514.7,871.8L510.8,874.4L506.9,877.0L503.0,879.7L503.8,880.8L507.9,878.6L512.0,876.3L516.0,873.9L520.0,871.4L524.0,868.9L527.8,866.2L531.7,863.5L535.5,860.7L539.2,857.8L542.8,854.8Z M539.6,850.0L535.3,851.7L531.0,853.6L526.8,855.5L522.6,857.5L518.5,859.6L514.4,861.8L510.3,864.1L506.3,866.4L502.3,868.8L498.4,871.3L499.1,872.5L503.3,870.5L507.4,868.4L511.5,866.3L515.6,864.2L519.7,862.0L523.8,859.9L527.9,857.7L531.9,855.4L536.0,853.2L540.0,850.9Z M552.3,868.1L548.4,870.5L544.5,872.8L540.6,875.1L536.7,877.3L532.8,879.6L528.9,881.8L525.0,884.0L521.1,886.2L517.1,888.3L513.2,890.5L513.7,891.7L518.0,890.0L522.1,888.2L526.2,886.2L530.2,884.1L534.2,881.9L538.1,879.6L541.9,877.1L545.6,874.5L549.3,871.8L552.9,868.9Z M550.1,863.9L545.2,865.4L540.4,867.1L535.6,868.9L530.8,870.8L526.1,872.8L521.5,874.9L516.8,877.1L512.3,879.4L507.8,881.8L503.3,884.3L503.9,885.6L508.6,883.5L513.3,881.5L517.9,879.4L522.6,877.4L527.2,875.3L531.9,873.2L536.5,871.1L541.1,869.0L545.8,866.9L550.4,864.8Z M559.2,885.9L555.2,888.1L551.1,890.4L547.1,892.7L543.1,894.9L539.0,897.1L535.0,899.3L531.0,901.5L526.9,903.7L522.9,905.8L518.8,907.9L519.4,909.2L523.7,907.5L527.9,905.7L532.1,903.8L536.3,901.7L540.3,899.5L544.4,897.2L548.3,894.7L552.2,892.2L556.0,889.5L559.8,886.7Z M557.4,881.4L552.5,882.4L547.7,883.7L543.0,885.1L538.3,886.7L533.8,888.4L529.2,890.4L524.8,892.5L520.5,894.8L516.2,897.3L512.1,899.9L512.8,901.1L517.1,899.0L521.5,896.8L525.9,894.8L530.3,892.8L534.8,890.9L539.3,889.1L543.8,887.3L548.4,885.6L553.0,884.0L557.6,882.4Z M567.6,903.7L563.2,906.0L558.8,908.4L554.4,910.7L550.0,913.0L545.6,915.4L541.2,917.7L536.9,920.0L532.5,922.3L528.1,924.6L523.7,926.9L524.3,928.2L528.9,926.3L533.5,924.3L538.0,922.3L542.5,920.0L546.9,917.7L551.3,915.3L555.6,912.8L559.8,910.1L564.0,907.4L568.2,904.5Z M565.8,899.2L561.6,900.6L557.3,902.0L553.1,903.5L548.9,905.1L544.8,906.8L540.6,908.5L536.5,910.2L532.5,912.1L528.4,914.0L524.4,916.0L525.0,917.3L529.2,915.8L533.3,914.2L537.5,912.6L541.7,910.9L545.8,909.2L549.9,907.5L554.0,905.7L558.1,903.9L562.1,902.1L566.2,900.2Z M575.1,918.7L571.0,920.9L566.9,923.1L562.7,925.2L558.6,927.2L554.4,929.1L550.3,931.0L546.1,932.8L541.8,934.5L537.6,936.2L533.3,937.8L533.6,939.1L538.2,938.0L542.6,936.7L547.0,935.2L551.3,933.5L555.6,931.6L559.8,929.5L563.9,927.3L567.9,924.9L571.8,922.3L575.7,919.5Z M573.5,914.1L568.8,914.5L564.2,915.2L559.7,916.0L555.2,916.9L550.7,918.1L546.3,919.4L542.0,920.9L537.7,922.6L533.5,924.4L529.4,926.5L530.0,927.7L534.2,926.2L538.5,924.7L542.8,923.3L547.1,922.0L551.4,920.7L555.8,919.4L560.2,918.3L564.6,917.2L569.1,916.1L573.6,915.1Z M580.1,939.9L575.3,941.3L570.6,942.8L565.9,944.3L561.2,945.8L556.5,947.4L551.8,949.0L547.1,950.6L542.5,952.3L537.8,954.0L533.2,955.8L533.6,957.1L538.4,955.8L543.2,954.4L547.9,953.0L552.7,951.5L557.4,949.9L562.0,948.2L566.7,946.5L571.3,944.7L575.9,942.8L580.4,940.9Z M579.0,935.3L574.0,936.1L569.0,937.0L564.0,937.9L559.0,939.0L554.1,940.0L549.1,941.2L544.2,942.3L539.2,943.6L534.3,944.9L529.4,946.2L529.7,947.6L534.7,946.7L539.7,945.8L544.7,944.8L549.7,943.8L554.6,942.7L559.6,941.5L564.5,940.3L569.4,939.0L574.3,937.7L579.2,936.2Z M587.3,956.2L582.4,958.1L577.5,959.9L572.5,961.7L567.6,963.3L562.7,964.9L557.7,966.4L552.8,967.9L547.8,969.2L542.7,970.5L537.7,971.8L537.9,973.1L543.1,972.4L548.3,971.5L553.4,970.3L558.5,969.0L563.5,967.5L568.5,965.8L573.4,963.9L578.2,961.8L583.0,959.6L587.8,957.1Z M585.9,951.6L581.2,951.9L576.5,952.4L571.8,952.9L567.1,953.5L562.4,954.3L557.7,955.1L553.1,956.0L548.5,957.1L543.9,958.2L539.3,959.5L539.6,960.8L544.3,960.1L548.9,959.3L553.6,958.5L558.2,957.7L562.8,956.9L567.5,956.1L572.1,955.3L576.8,954.4L581.4,953.5L586.1,952.6Z M593.1,974.3L588.3,976.0L583.6,977.7L578.9,979.4L574.2,980.9L569.5,982.4L564.7,983.9L560.0,985.3L555.2,986.6L550.4,987.8L545.6,989.1L545.8,990.4L550.8,989.7L555.7,988.8L560.6,987.7L565.5,986.4L570.3,985.0L575.0,983.4L579.7,981.6L584.4,979.6L589.0,977.5L593.5,975.2Z M592.2,969.5L586.9,970.1L581.5,970.9L576.2,971.7L570.9,972.7L565.6,973.8L560.4,974.9L555.2,976.2L550.0,977.7L544.8,979.2L539.7,980.8L540.1,982.1L545.3,981.0L550.5,979.9L555.8,978.7L561.0,977.5L566.2,976.4L571.4,975.2L576.7,974.1L581.9,972.9L587.1,971.7L592.4,970.5Z M600.6,990.7L595.6,992.3L590.5,993.9L585.5,995.5L580.5,997.0L575.4,998.5L570.4,1000.0L565.4,1001.4L560.3,1002.8L555.2,1004.2L550.2,1005.6L550.5,1007.0L555.7,1006.1L560.9,1005.0L566.0,1003.9L571.1,1002.5L576.2,1001.1L581.2,999.5L586.2,997.7L591.2,995.9L596.1,993.8L601.0,991.7Z M599.4,986.1L593.7,986.8L588.1,987.7L582.5,988.6L576.9,989.7L571.3,990.9L565.7,992.2L560.2,993.7L554.7,995.2L549.3,996.8L543.8,998.6L544.2,1000.0L549.8,998.7L555.3,997.4L560.8,996.1L566.4,994.8L571.9,993.5L577.4,992.3L583.0,991.0L588.5,989.7L594.0,988.4L599.6,987.1Z M603.0,1009.4L597.6,1010.5L592.3,1011.7L586.9,1012.9L581.6,1014.1L576.2,1015.4L570.9,1016.7L565.6,1018.0L560.3,1019.3L555.0,1020.7L549.7,1022.1L549.9,1023.5L555.4,1022.5L560.8,1021.5L566.1,1020.5L571.5,1019.3L576.9,1018.0L582.2,1016.6L587.5,1015.2L592.8,1013.7L598.1,1012.1L603.3,1010.3Z M601.9,1004.7L596.6,1004.6L591.2,1004.7L585.9,1004.9L580.5,1005.3L575.2,1005.8L569.9,1006.5L564.7,1007.3L559.5,1008.3L554.3,1009.5L549.1,1010.8L549.4,1012.1L554.6,1011.3L559.8,1010.6L565.1,1009.8L570.3,1009.1L575.6,1008.5L580.8,1007.9L586.1,1007.3L591.4,1006.7L596.7,1006.2L602.0,1005.7Z M606.5,1024.7L601.5,1025.7L596.4,1026.7L591.4,1027.7L586.3,1028.8L581.3,1029.9L576.3,1031.0L571.3,1032.1L566.3,1033.3L561.3,1034.5L556.3,1035.7L556.5,1037.1L561.6,1036.4L566.7,1035.5L571.8,1034.6L576.9,1033.6L581.9,1032.5L586.9,1031.3L591.9,1030.0L596.9,1028.7L601.9,1027.2L606.8,1025.7Z M605.6,1020.0L600.2,1019.6L594.8,1019.4L589.4,1019.4L584.0,1019.5L578.6,1019.8L573.2,1020.3L567.9,1020.9L562.6,1021.7L557.3,1022.6L552.1,1023.8L552.3,1025.1L557.6,1024.5L562.9,1023.9L568.2,1023.4L573.5,1022.9L578.8,1022.5L584.1,1022.1L589.5,1021.8L594.8,1021.5L600.2,1021.2L605.6,1021.0Z M608.9,1042.5L603.6,1043.1L598.4,1043.7L593.2,1044.3L588.0,1044.9L582.8,1045.6L577.5,1046.2L572.3,1046.8L567.1,1047.5L561.9,1048.1L556.7,1048.7L556.8,1050.1L562.0,1050.0L567.3,1049.7L572.6,1049.3L577.8,1048.9L583.1,1048.2L588.3,1047.5L593.5,1046.7L598.7,1045.7L603.9,1044.7L609.1,1043.4Z M608.6,1037.7L602.9,1037.0L597.3,1036.6L591.6,1036.4L586.0,1036.4L580.3,1036.6L574.7,1037.0L569.1,1037.6L563.5,1038.4L557.9,1039.4L552.4,1040.6L552.6,1041.9L558.2,1041.2L563.8,1040.6L569.3,1040.1L574.9,1039.6L580.5,1039.3L586.0,1039.0L591.6,1038.8L597.2,1038.7L602.9,1038.6L608.5,1038.7Z M1.1,588.7L1.2,584.2L1.2,579.7L1.2,575.1L1.1,570.6L1.0,566.1L0.9,561.5L0.7,557.0L0.4,552.5L0.1,547.9L-0.2,543.4L-1.6,543.4L-1.8,548.0L-1.8,552.5L-1.9,557.1L-1.8,561.6L-1.7,566.1L-1.5,570.7L-1.2,575.2L-0.9,579.7L-0.4,584.3L0.1,588.8Z M5.9,589.3L6.5,584.9L7.0,580.5L7.5,576.0L8.0,571.6L8.3,567.2L8.7,562.8L8.9,558.3L9.2,553.9L9.3,549.4L9.4,545.0L8.1,544.9L7.4,549.3L6.9,553.7L6.4,558.1L6.0,562.5L5.7,567.0L5.4,571.4L5.1,575.9L5.0,580.3L4.9,584.8L4.9,589.2Z M19.1,589.1L18.7,584.6L18.3,580.2L17.9,575.8L17.6,571.4L17.3,567.0L17.0,562.6L16.8,558.2L16.6,553.8L16.5,549.4L16.3,545.0L14.9,544.9L14.6,549.4L14.3,553.8L14.3,558.3L14.4,562.7L14.6,567.2L15.0,571.6L15.6,576.0L16.3,580.4L17.1,584.9L18.1,589.2Z M23.9,588.8L25.1,584.5L26.0,580.1L26.7,575.7L27.2,571.3L27.5,566.9L27.5,562.5L27.4,558.1L27.1,553.7L26.5,549.3L25.7,545.0L24.4,545.1L24.6,549.5L24.8,553.8L24.9,558.2L24.9,562.5L24.8,566.8L24.6,571.1L24.3,575.5L23.9,579.8L23.5,584.2L22.9,588.6Z M36.4,588.8L36.5,584.2L36.5,579.5L36.5,574.9L36.5,570.3L36.4,565.6L36.3,561.0L36.1,556.4L35.9,551.8L35.7,547.1L35.4,542.5L34.0,542.5L33.8,547.2L33.6,551.8L33.6,556.4L33.6,561.1L33.7,565.7L33.9,570.3L34.1,575.0L34.5,579.6L34.9,584.2L35.4,588.9Z M41.2,589.1L42.4,584.6L43.5,580.0L44.5,575.3L45.2,570.7L45.8,566.1L46.2,561.4L46.5,556.7L46.6,552.1L46.5,547.4L46.3,542.7L44.9,542.8L44.6,547.4L44.3,552.0L44.0,556.6L43.6,561.2L43.1,565.8L42.6,570.4L42.1,575.0L41.5,579.6L40.9,584.2L40.2,588.9Z M52.7,590.5L52.7,585.5L52.5,580.6L52.2,575.6L51.9,570.7L51.6,565.8L51.2,560.8L50.7,555.9L50.2,551.0L49.6,546.1L48.9,541.2L47.5,541.3L47.7,546.2L47.9,551.2L48.2,556.1L48.5,561.1L48.9,566.0L49.4,570.9L49.9,575.8L50.4,580.7L51.0,585.7L51.8,590.6Z M57.5,590.7L58.5,586.2L59.4,581.6L60.0,576.9L60.5,572.3L60.8,567.7L61.0,563.1L60.9,558.4L60.8,553.8L60.4,549.2L59.9,544.6L58.5,544.7L58.5,549.3L58.5,553.9L58.4,558.4L58.3,563.0L58.1,567.6L57.9,572.1L57.6,576.7L57.3,581.3L56.9,585.9L56.6,590.6Z M70.2,592.2L70.3,587.2L70.4,582.2L70.5,577.2L70.7,572.3L71.0,567.4L71.3,562.5L71.6,557.5L72.0,552.6L72.5,547.7L73.0,542.8L71.7,542.6L70.6,547.5L69.8,552.4L69.1,557.3L68.6,562.3L68.3,567.2L68.1,572.2L68.1,577.2L68.3,582.2L68.7,587.2L69.2,592.2Z M74.9,593.6L76.3,589.2L77.6,584.8L78.7,580.3L79.7,575.8L80.5,571.3L81.1,566.8L81.6,562.2L81.9,557.6L82.0,553.1L82.0,548.5L80.6,548.4L80.2,553.0L79.6,557.5L79.1,562.0L78.5,566.4L77.8,570.9L77.1,575.4L76.4,579.9L75.6,584.3L74.8,588.8L73.9,593.3Z M85.7,592.2L86.2,587.8L86.7,583.4L87.1,578.9L87.5,574.5L87.8,570.0L88.1,565.6L88.4,561.1L88.6,556.7L88.8,552.2L88.9,547.8L87.5,547.7L86.9,552.1L86.3,556.5L85.9,561.0L85.5,565.4L85.2,569.9L84.9,574.3L84.7,578.8L84.6,583.2L84.6,587.7L84.7,592.2Z M90.3,593.5L91.6,588.8L92.7,584.1L93.8,579.4L94.9,574.7L95.9,570.0L96.8,565.2L97.6,560.5L98.4,555.7L99.1,550.9L99.8,546.2L98.4,545.9L97.2,550.6L96.2,555.3L95.1,560.0L94.1,564.7L93.2,569.5L92.3,574.2L91.5,579.0L90.7,583.7L90.0,588.5L89.3,593.3Z M100.5,595.2L101.1,590.6L101.6,586.1L102.2,581.6L102.8,577.1L103.5,572.6L104.2,568.2L104.9,563.7L105.7,559.2L106.5,554.8L107.3,550.3L105.9,550.0L104.6,554.4L103.4,558.8L102.4,563.2L101.5,567.7L100.8,572.2L100.3,576.8L99.8,581.4L99.6,585.9L99.5,590.5L99.5,595.1Z M105.2,596.3L106.7,592.2L108.2,588.0L109.5,583.8L110.7,579.6L111.8,575.3L112.8,571.1L113.7,566.8L114.5,562.5L115.2,558.2L115.8,553.8L114.5,553.6L113.4,557.8L112.3,562.0L111.3,566.2L110.2,570.5L109.2,574.7L108.2,578.9L107.2,583.2L106.2,587.4L105.2,591.7L104.3,596.0Z M113.3,600.5L115.0,596.2L116.8,592.0L118.5,587.7L120.2,583.5L121.9,579.2L123.6,575.0L125.3,570.8L127.0,566.6L128.7,562.3L130.4,558.1L129.1,557.5L126.9,561.5L124.9,565.6L122.9,569.8L121.1,574.0L119.4,578.2L117.7,582.5L116.2,586.9L114.8,591.3L113.5,595.7L112.4,600.2Z M117.6,602.6L120.3,598.6L122.9,594.5L125.4,590.4L127.9,586.3L130.3,582.1L132.7,577.9L135.0,573.6L137.2,569.3L139.4,565.0L141.5,560.7L140.3,560.0L137.7,564.1L135.2,568.2L132.8,572.4L130.3,576.6L128.0,580.8L125.6,585.0L123.3,589.2L121.1,593.5L118.9,597.8L116.7,602.1Z M123.0,605.2L124.9,601.2L126.8,597.1L128.6,593.0L130.3,588.8L132.1,584.7L133.7,580.5L135.3,576.4L136.9,572.2L138.4,567.9L139.9,563.7L138.6,563.2L136.7,567.2L134.8,571.3L133.0,575.4L131.2,579.5L129.5,583.7L127.9,587.9L126.4,592.1L124.9,596.3L123.4,600.6L122.1,604.9Z M127.1,607.8L130.1,603.5L132.9,599.2L135.6,594.8L138.2,590.4L140.8,585.9L143.2,581.4L145.5,576.8L147.7,572.2L149.9,567.5L151.9,562.8L150.6,562.2L148.2,566.7L145.7,571.2L143.3,575.7L140.8,580.1L138.4,584.6L136.0,589.1L133.5,593.7L131.1,598.2L128.7,602.7L126.3,607.3Z M132.4,610.5L133.8,606.1L135.2,601.6L136.5,597.1L137.9,592.6L139.2,588.2L140.5,583.7L141.8,579.2L143.1,574.7L144.3,570.3L145.6,565.8L144.3,565.3L142.5,569.7L140.9,574.1L139.4,578.5L137.9,582.9L136.6,587.4L135.4,591.9L134.2,596.5L133.2,601.1L132.2,605.7L131.4,610.3Z M136.8,612.3L139.5,608.4L142.0,604.4L144.3,600.3L146.5,596.1L148.5,591.9L150.3,587.6L152.0,583.3L153.5,578.8L154.9,574.4L156.1,569.9L154.8,569.5L153.1,573.8L151.4,578.1L149.7,582.3L147.9,586.6L146.0,590.8L144.1,595.0L142.2,599.2L140.2,603.4L138.1,607.6L136.0,611.8Z M151.2,616.8L152.4,612.0L153.7,607.3L155.0,602.7L156.4,598.1L157.8,593.5L159.3,588.9L160.9,584.4L162.6,579.9L164.3,575.5L166.1,571.0L164.8,570.4L162.5,574.7L160.5,579.1L158.5,583.5L156.8,588.1L155.3,592.7L153.9,597.3L152.7,602.1L151.7,606.9L150.9,611.7L150.2,616.6Z M155.5,619.1L158.3,614.9L161.0,610.7L163.5,606.3L165.9,601.9L168.1,597.4L170.2,592.9L172.1,588.3L173.9,583.6L175.6,578.9L177.1,574.1L175.8,573.6L173.8,578.2L171.8,582.8L169.8,587.3L167.8,591.8L165.7,596.3L163.5,600.7L161.4,605.2L159.2,609.7L156.9,614.1L154.6,618.6Z M167.3,621.6L168.8,617.0L170.2,612.4L171.6,607.8L173.0,603.2L174.4,598.6L175.8,594.0L177.2,589.4L178.5,584.8L179.9,580.2L181.2,575.6L179.9,575.1L178.1,579.6L176.4,584.1L174.8,588.6L173.2,593.2L171.8,597.8L170.5,602.5L169.3,607.1L168.2,611.8L167.2,616.6L166.4,621.4Z M172.1,622.6L174.2,618.4L176.2,614.1L178.1,609.7L180.0,605.4L181.8,601.0L183.6,596.6L185.3,592.1L186.9,587.7L188.5,583.2L189.9,578.7L188.6,578.2L186.7,582.5L184.8,586.8L182.9,591.2L181.1,595.6L179.3,600.0L177.6,604.4L175.9,608.8L174.3,613.3L172.7,617.7L171.1,622.2Z M183.6,628.2L185.3,623.9L187.0,619.7L188.7,615.4L190.4,611.2L192.0,606.9L193.6,602.7L195.2,598.4L196.8,594.1L198.4,589.8L199.9,585.5L198.6,585.0L196.6,589.1L194.7,593.3L192.9,597.5L191.2,601.7L189.5,606.0L187.9,610.3L186.5,614.6L185.1,619.0L183.8,623.4L182.6,627.9Z M188.0,630.0L190.9,626.1L193.6,622.2L196.2,618.2L198.7,614.1L201.0,610.0L203.3,605.8L205.5,601.6L207.5,597.3L209.5,593.0L211.3,588.6L210.0,588.0L207.8,592.1L205.5,596.3L203.2,600.4L201.0,604.6L198.7,608.7L196.4,612.8L194.1,617.0L191.8,621.1L189.5,625.3L187.2,629.5Z M198.1,634.4L200.0,630.6L201.8,626.7L203.6,622.9L205.4,619.1L207.1,615.2L208.8,611.4L210.6,607.5L212.2,603.7L213.9,599.8L215.6,595.9L214.3,595.3L212.2,598.9L210.2,602.7L208.3,606.4L206.4,610.3L204.7,614.1L203.0,618.0L201.4,622.0L199.9,625.9L198.5,630.0L197.2,634.0Z M202.5,636.3L205.4,632.6L208.1,628.8L210.8,624.9L213.4,621.0L215.8,617.0L218.2,613.0L220.5,608.9L222.7,604.7L224.8,600.6L226.8,596.3L225.6,595.7L223.1,599.6L220.7,603.6L218.3,607.6L215.9,611.6L213.5,615.6L211.1,619.6L208.8,623.6L206.4,627.7L204.0,631.7L201.7,635.8Z M213.3,640.3L215.2,636.0L217.1,631.7L219.1,627.5L221.1,623.4L223.2,619.3L225.4,615.2L227.7,611.2L230.0,607.2L232.5,603.2L235.0,599.3L233.8,598.5L230.9,602.2L228.1,606.0L225.5,609.9L223.1,613.9L220.8,618.0L218.8,622.2L216.9,626.5L215.2,630.9L213.6,635.4L212.3,640.0Z M217.3,643.0L220.3,639.4L223.1,635.8L225.9,632.1L228.6,628.3L231.2,624.5L233.7,620.6L236.1,616.7L238.4,612.7L240.6,608.6L242.7,604.5L241.5,603.8L239.0,607.7L236.4,611.5L233.9,615.3L231.4,619.2L228.9,623.0L226.4,626.8L223.9,630.7L221.4,634.6L219.0,638.5L216.5,642.4Z M226.5,646.3L229.0,642.8L231.4,639.2L233.8,635.6L236.2,632.0L238.5,628.3L240.8,624.7L243.1,621.0L245.4,617.4L247.6,613.7L249.8,609.9L248.7,609.2L246.0,612.6L243.5,616.1L241.0,619.6L238.6,623.2L236.3,626.9L234.0,630.6L231.8,634.3L229.7,638.1L227.6,641.9L225.7,645.8Z M230.7,648.8L233.5,646.0L236.3,643.1L238.9,640.1L241.5,637.0L244.0,633.9L246.5,630.8L248.9,627.6L251.1,624.3L253.4,621.0L255.5,617.6L254.4,616.8L251.8,619.9L249.3,623.0L246.8,626.0L244.4,629.2L241.9,632.3L239.5,635.4L237.1,638.6L234.7,641.7L232.3,644.9L229.9,648.2Z M239.1,659.9L241.9,656.1L244.7,652.3L247.5,648.4L250.2,644.6L252.9,640.7L255.6,636.9L258.2,633.0L260.9,629.1L263.5,625.2L266.1,621.2L265.0,620.4L262.0,624.0L259.1,627.7L256.2,631.5L253.4,635.3L250.7,639.2L248.0,643.1L245.5,647.1L243.0,651.1L240.6,655.2L238.3,659.4Z M243.0,662.8L246.4,659.8L249.6,656.7L252.8,653.4L255.8,650.1L258.7,646.6L261.4,643.1L264.0,639.4L266.5,635.7L268.8,631.8L271.0,627.9L269.8,627.1L267.2,630.8L264.6,634.4L262.0,637.9L259.3,641.5L256.6,645.0L253.8,648.4L251.0,651.9L248.1,655.3L245.2,658.7L242.3,662.1Z M252.3,673.3L254.7,669.0L257.1,664.7L259.5,660.4L262.0,656.2L264.6,652.1L267.2,648.0L269.9,643.9L272.6,639.9L275.4,635.9L278.2,631.9L277.1,631.0L273.9,634.7L270.7,638.5L267.8,642.5L265.0,646.5L262.3,650.7L259.8,654.9L257.4,659.3L255.2,663.7L253.2,668.3L251.4,672.9Z M255.7,676.7L259.3,673.3L262.8,669.8L266.2,666.2L269.4,662.5L272.6,658.7L275.6,654.8L278.5,650.9L281.3,646.8L284.0,642.7L286.6,638.5L285.4,637.7L282.5,641.6L279.5,645.5L276.5,649.3L273.5,653.2L270.5,657.0L267.4,660.8L264.4,664.6L261.3,668.4L258.2,672.2L255.0,676.1Z M266.3,683.4L268.6,678.8L271.0,674.2L273.4,669.7L275.9,665.3L278.5,660.9L281.1,656.6L283.8,652.3L286.6,648.0L289.5,643.8L292.4,639.6L291.4,638.8L288.0,642.7L284.8,646.7L281.7,650.9L278.9,655.2L276.2,659.5L273.6,664.0L271.3,668.6L269.1,673.4L267.1,678.2L265.4,683.1Z M270.6,685.6L274.1,681.7L277.5,677.8L280.9,673.8L284.1,669.7L287.2,665.6L290.3,661.4L293.3,657.1L296.1,652.8L298.9,648.4L301.6,644.0L300.4,643.2L297.3,647.4L294.3,651.5L291.2,655.7L288.1,659.8L285.1,664.0L282.0,668.2L279.0,672.3L275.9,676.5L272.9,680.7L269.8,685.0Z M281.3,691.2L284.1,687.2L286.9,683.2L289.6,679.1L292.2,675.0L294.8,670.8L297.4,666.7L299.8,662.5L302.3,658.2L304.6,654.0L307.0,649.7L305.8,648.9L303.0,653.0L300.3,657.0L297.7,661.2L295.1,665.3L292.5,669.4L290.0,673.6L287.5,677.8L285.1,682.1L282.8,686.3L280.5,690.7Z M285.0,694.2L288.7,690.6L292.2,686.9L295.6,683.1L298.9,679.3L302.1,675.3L305.3,671.3L308.3,667.2L311.2,663.0L314.0,658.8L316.6,654.5L315.5,653.7L312.4,657.7L309.3,661.7L306.2,665.7L303.1,669.7L300.0,673.7L296.9,677.6L293.8,681.6L290.6,685.6L287.5,689.6L284.3,693.6Z M294.6,700.6L296.8,696.6L298.9,692.6L301.1,688.6L303.2,684.5L305.2,680.5L307.3,676.4L309.3,672.4L311.3,668.3L313.2,664.2L315.2,660.1L313.9,659.4L311.6,663.3L309.3,667.2L307.0,671.2L304.9,675.2L302.8,679.3L300.8,683.4L298.9,687.5L297.1,691.7L295.3,695.9L293.7,700.2Z M298.5,703.3L301.8,699.5L304.9,695.7L308.0,691.8L310.9,687.8L313.8,683.7L316.5,679.6L319.1,675.4L321.6,671.1L324.0,666.8L326.3,662.4L325.1,661.7L322.4,665.8L319.7,669.9L317.0,674.0L314.2,678.1L311.5,682.2L308.8,686.3L306.0,690.4L303.3,694.5L300.5,698.6L297.8,702.7Z M307.9,712.7L310.5,708.8L313.1,704.9L315.7,701.0L318.3,697.2L320.9,693.3L323.6,689.5L326.2,685.6L328.9,681.8L331.5,678.0L334.2,674.2L333.1,673.3L330.0,676.8L327.0,680.5L324.2,684.2L321.4,687.9L318.7,691.8L316.1,695.7L313.7,699.7L311.3,703.8L309.1,707.9L307.0,712.2Z M311.6,715.7L315.6,712.4L319.4,708.9L323.0,705.4L326.5,701.6L329.9,697.8L333.1,693.8L336.1,689.7L338.9,685.5L341.6,681.2L344.1,676.8L342.9,676.0L340.0,680.2L337.1,684.2L334.1,688.2L331.0,692.2L327.8,696.1L324.6,699.9L321.3,703.7L317.9,707.5L314.4,711.2L310.9,715.0Z M321.8,721.1L325.0,717.0L328.2,712.9L331.4,708.8L334.5,704.7L337.7,700.6L340.8,696.6L344.0,692.5L347.1,688.4L350.2,684.3L353.3,680.2L352.3,679.3L348.8,683.1L345.3,686.9L342.0,690.9L338.7,694.9L335.5,699.0L332.4,703.2L329.4,707.4L326.5,711.7L323.7,716.1L321.0,720.5Z M325.5,724.2L329.0,720.9L332.4,717.6L335.8,714.3L339.1,710.9L342.4,707.5L345.6,704.0L348.8,700.5L351.9,696.9L355.0,693.3L358.1,689.6L357.1,688.7L353.6,692.0L350.3,695.3L346.9,698.7L343.6,702.2L340.4,705.6L337.2,709.1L334.0,712.6L330.9,716.2L327.8,719.8L324.8,723.5Z M333.8,729.7L337.3,726.5L340.7,723.4L344.1,720.2L347.5,717.0L350.8,713.7L354.1,710.4L357.3,707.1L360.5,703.8L363.7,700.4L366.9,697.0L365.9,696.0L362.4,699.0L359.0,702.2L355.5,705.3L352.2,708.5L348.9,711.8L345.6,715.1L342.4,718.5L339.3,721.9L336.2,725.4L333.1,729.0Z M336.4,733.8L340.8,731.2L345.2,728.5L349.5,725.7L353.7,722.7L357.8,719.6L361.8,716.4L365.7,713.1L369.5,709.7L373.2,706.1L376.8,702.5L375.8,701.5L371.9,704.7L368.0,708.0L364.0,711.1L360.1,714.3L356.1,717.5L352.1,720.6L348.1,723.7L344.0,726.8L339.9,729.9L335.8,733.0Z M343.1,744.2L346.8,740.6L350.4,737.1L354.1,733.5L357.7,730.0L361.4,726.6L365.1,723.1L368.9,719.7L372.6,716.3L376.4,713.0L380.2,709.7L379.4,708.6L375.2,711.5L371.2,714.6L367.2,717.8L363.3,721.1L359.6,724.6L355.9,728.2L352.4,731.8L348.9,735.6L345.6,739.6L342.4,743.6Z M346.2,747.9L350.7,745.5L355.2,742.9L359.6,740.2L364.0,737.4L368.3,734.5L372.5,731.5L376.6,728.4L380.7,725.3L384.6,722.0L388.5,718.6L387.7,717.5L383.5,720.5L379.3,723.5L375.1,726.4L370.9,729.4L366.7,732.3L362.5,735.3L358.3,738.2L354.1,741.2L349.9,744.1L345.6,747.1Z M351.5,759.8L354.9,756.2L358.4,752.6L362.0,749.2L365.5,745.8L369.1,742.5L372.8,739.2L376.5,736.0L380.3,732.9L384.1,729.9L388.0,726.9L387.2,725.7L383.0,728.3L378.9,731.1L374.9,734.1L371.0,737.2L367.3,740.5L363.7,743.9L360.2,747.5L356.9,751.2L353.7,755.1L350.7,759.2Z M354.1,763.8L358.5,761.4L362.8,758.8L367.0,756.0L371.1,753.2L375.2,750.3L379.2,747.2L383.1,744.1L386.9,740.8L390.6,737.5L394.2,734.0L393.3,733.0L389.4,736.0L385.4,739.1L381.5,742.1L377.5,745.1L373.6,748.1L369.6,751.1L365.6,754.1L361.6,757.0L357.6,760.0L353.6,763.0Z M364.5,775.0L368.5,771.8L372.4,768.5L376.4,765.2L380.3,761.9L384.2,758.6L388.1,755.3L392.0,752.0L395.8,748.7L399.7,745.4L403.6,742.0L402.7,740.9L398.5,743.9L394.4,746.9L390.4,750.1L386.4,753.3L382.4,756.6L378.6,759.9L374.8,763.4L371.1,766.9L367.4,770.6L363.9,774.3Z M367.3,779.0L372.0,776.4L376.6,773.7L381.2,770.9L385.8,768.0L390.2,765.0L394.6,761.9L398.9,758.7L403.2,755.5L407.4,752.1L411.5,748.6L410.6,747.5L406.2,750.6L401.8,753.6L397.4,756.7L393.1,759.7L388.7,762.8L384.3,765.8L379.9,768.9L375.5,771.9L371.1,775.0L366.8,778.1Z M376.4,786.4L380.3,783.0L384.1,779.5L388.0,776.1L391.8,772.7L395.7,769.3L399.7,766.0L403.6,762.7L407.5,759.4L411.5,756.2L415.5,752.9L414.7,751.8L410.4,754.7L406.2,757.6L402.0,760.7L397.9,764.0L394.0,767.3L390.1,770.8L386.3,774.3L382.7,778.0L379.1,781.8L375.7,785.8Z M379.1,790.5L383.4,787.8L387.7,785.0L392.0,782.1L396.2,779.2L400.4,776.2L404.5,773.1L408.5,770.0L412.5,766.8L416.4,763.5L420.3,760.2L419.5,759.1L415.3,762.0L411.1,765.0L407.0,768.0L402.9,771.0L398.8,774.0L394.7,777.1L390.6,780.2L386.5,783.3L382.5,786.5L378.5,789.7Z M386.7,800.4L390.8,797.2L394.9,794.0L399.1,790.9L403.3,787.9L407.6,784.9L411.8,782.0L416.1,779.1L420.5,776.3L424.9,773.5L429.4,770.8L428.7,769.6L424.0,771.9L419.3,774.3L414.8,777.0L410.4,779.7L406.0,782.7L401.8,785.8L397.7,789.0L393.6,792.4L389.8,796.0L386.0,799.7Z M389.2,804.5L393.6,802.4L397.9,800.1L402.1,797.9L406.3,795.5L410.5,793.1L414.6,790.6L418.7,788.1L422.8,785.4L426.8,782.8L430.7,780.0L430.0,778.8L425.8,781.1L421.6,783.5L417.4,785.9L413.2,788.3L409.1,790.8L405.0,793.3L400.9,795.8L396.8,798.4L392.8,801.0L388.7,803.6Z M395.4,815.6L399.1,812.8L402.8,809.9L406.5,807.2L410.3,804.6L414.1,802.0L417.9,799.4L421.8,797.0L425.7,794.6L429.6,792.2L433.6,790.0L433.0,788.7L428.8,790.6L424.6,792.6L420.5,794.8L416.5,797.2L412.6,799.7L408.8,802.4L405.1,805.3L401.5,808.3L398.0,811.5L394.7,814.9Z M398.0,819.6L402.2,817.6L406.3,815.6L410.4,813.4L414.5,811.3L418.6,809.1L422.6,806.8L426.6,804.5L430.5,802.1L434.5,799.7L438.4,797.3L437.7,796.1L433.6,798.1L429.4,800.1L425.3,802.3L421.3,804.5L417.2,806.7L413.2,809.0L409.3,811.3L405.3,813.8L401.4,816.2L397.6,818.8Z M406.0,827.4L409.9,824.4L413.9,821.5L417.8,818.6L421.8,815.8L425.9,813.1L429.9,810.5L434.0,807.9L438.2,805.4L442.4,803.0L446.7,800.6L446.1,799.4L441.5,801.3L437.1,803.4L432.8,805.7L428.5,808.2L424.4,810.9L420.3,813.7L416.4,816.7L412.6,819.9L408.9,823.2L405.3,826.7Z M408.3,831.7L412.6,830.5L416.9,829.0L421.1,827.4L425.2,825.6L429.2,823.7L433.1,821.5L436.9,819.2L440.6,816.7L444.2,814.0L447.6,811.2L446.8,810.1L443.1,812.5L439.4,814.8L435.6,817.0L431.8,819.2L428.0,821.3L424.1,823.3L420.1,825.3L416.1,827.1L412.1,828.9L408.0,830.7Z M412.8,838.3L416.6,835.4L420.4,832.6L424.1,829.8L428.0,827.1L431.8,824.4L435.7,821.9L439.6,819.3L443.5,816.8L447.5,814.4L451.6,812.0L451.0,810.8L446.7,812.7L442.4,814.9L438.3,817.2L434.2,819.6L430.3,822.2L426.4,825.0L422.7,827.9L419.1,831.0L415.5,834.2L412.1,837.6Z M415.5,842.3L419.5,840.5L423.5,838.5L427.5,836.6L431.5,834.6L435.4,832.5L439.3,830.4L443.2,828.2L447.0,826.0L450.8,823.7L454.6,821.4L454.0,820.2L449.9,822.1L445.9,824.0L442.0,826.0L438.0,828.0L434.1,830.1L430.2,832.3L426.4,834.5L422.6,836.7L418.8,839.0L415.0,841.4Z M423.5,855.1L427.5,852.3L431.5,849.6L435.5,846.8L439.5,844.0L443.5,841.3L447.6,838.6L451.6,835.9L455.6,833.3L459.7,830.6L463.7,827.9L463.0,826.7L458.7,829.0L454.4,831.3L450.2,833.8L446.1,836.4L442.0,839.1L438.0,841.9L434.1,844.9L430.3,847.9L426.5,851.1L422.9,854.4Z M425.8,859.3L430.1,857.8L434.3,856.2L438.5,854.5L442.6,852.7L446.7,850.8L450.8,848.9L454.8,846.8L458.7,844.7L462.6,842.5L466.5,840.2L465.9,839.0L461.8,840.8L457.7,842.7L453.6,844.5L449.6,846.4L445.6,848.4L441.5,850.3L437.5,852.3L433.5,854.3L429.5,856.3L425.5,858.4Z M434.8,871.4L438.2,868.5L441.7,865.6L445.2,862.9L448.8,860.2L452.3,857.6L455.9,855.0L459.6,852.6L463.3,850.2L467.0,847.8L470.8,845.5L470.1,844.3L466.1,846.1L462.1,848.2L458.2,850.4L454.4,852.8L450.8,855.4L447.2,858.1L443.7,861.0L440.4,864.1L437.1,867.3L434.1,870.6Z M437.4,875.4L441.6,873.5L445.8,871.6L449.9,869.6L454.0,867.6L458.1,865.5L462.2,863.4L466.2,861.2L470.3,859.0L474.3,856.7L478.2,854.4L477.6,853.2L473.4,855.0L469.2,857.0L465.1,858.9L461.0,861.0L456.9,863.1L452.8,865.2L448.8,867.5L444.8,869.7L440.9,872.1L437.0,874.5Z M443.8,889.5L447.3,886.6L450.9,883.9L454.5,881.2L458.2,878.6L461.8,876.1L465.6,873.6L469.3,871.3L473.1,869.0L477.0,866.7L481.0,864.5L480.4,863.3L476.2,865.0L472.1,867.0L468.0,869.1L464.1,871.4L460.3,873.8L456.6,876.5L453.1,879.3L449.6,882.3L446.3,885.4L443.1,888.7Z M446.7,893.3L451.2,891.1L455.6,888.8L460.0,886.4L464.3,884.0L468.6,881.5L472.8,878.9L477.0,876.2L481.1,873.5L485.2,870.7L489.3,867.8L488.5,866.7L484.2,869.1L479.9,871.6L475.6,874.1L471.4,876.6L467.2,879.2L462.9,881.7L458.7,884.4L454.6,887.0L450.4,889.7L446.3,892.4Z M452.7,903.9L457.0,901.4L461.2,898.9L465.4,896.3L469.6,893.7L473.8,891.0L477.9,888.3L482.0,885.5L486.0,882.7L490.1,879.9L494.1,877.0L493.3,875.8L489.0,878.3L484.8,880.8L480.6,883.4L476.4,886.1L472.3,888.8L468.2,891.5L464.1,894.3L460.1,897.2L456.1,900.1L452.2,903.1Z M454.5,908.4L459.0,907.2L463.5,905.8L467.9,904.3L472.3,902.6L476.6,900.8L480.9,898.9L485.0,896.8L489.1,894.6L493.1,892.3L497.1,889.9L496.4,888.7L492.2,890.7L488.1,892.6L483.9,894.6L479.7,896.5L475.5,898.3L471.3,900.2L467.1,902.0L462.8,903.8L458.5,905.6L454.2,907.4Z M459.9,920.0L464.2,917.9L468.4,915.8L472.6,913.7L476.8,911.5L480.9,909.3L485.0,907.1L489.1,904.8L493.2,902.4L497.3,900.1L501.3,897.7L500.7,896.4L496.4,898.4L492.1,900.4L487.9,902.5L483.8,904.7L479.6,906.9L475.5,909.2L471.4,911.6L467.4,914.0L463.4,916.5L459.5,919.1Z M462.1,924.3L466.7,923.3L471.3,922.0L475.8,920.6L480.2,919.1L484.6,917.4L489.0,915.6L493.3,913.7L497.5,911.5L501.6,909.3L505.7,906.9L505.0,905.7L500.8,907.6L496.5,909.5L492.2,911.3L487.9,913.2L483.6,914.9L479.3,916.7L475.0,918.4L470.6,920.1L466.2,921.7L461.8,923.3Z M466.0,935.5L470.5,933.3L475.0,931.0L479.5,928.7L484.0,926.4L488.5,924.1L493.0,921.7L497.4,919.4L501.9,917.0L506.3,914.6L510.7,912.1L510.1,910.9L505.4,912.9L500.8,915.0L496.3,917.1L491.7,919.4L487.3,921.7L482.8,924.1L478.4,926.6L474.0,929.2L469.7,931.8L465.5,934.6Z M468.1,939.8L473.1,938.6L478.1,937.3L483.1,935.8L488.0,934.3L492.9,932.6L497.7,930.9L502.6,929.1L507.3,927.1L512.0,925.1L516.7,922.9L516.2,921.6L511.3,923.3L506.5,925.0L501.7,926.7L496.8,928.4L492.0,930.1L487.2,931.8L482.3,933.5L477.5,935.3L472.7,937.0L467.8,938.8Z M473.4,950.0L478.0,947.9L482.6,945.8L487.2,943.7L491.8,941.7L496.4,939.7L501.1,937.7L505.7,935.7L510.3,933.7L514.9,931.8L519.6,929.8L519.1,928.5L514.3,930.0L509.5,931.6L504.7,933.4L500.0,935.2L495.4,937.2L490.8,939.3L486.2,941.6L481.7,944.0L477.3,946.4L472.9,949.1Z M474.9,954.5L479.9,953.5L484.8,952.4L489.7,951.1L494.6,949.7L499.4,948.2L504.1,946.5L508.8,944.7L513.4,942.7L518.0,940.6L522.5,938.4L521.9,937.1L517.2,938.9L512.6,940.6L507.9,942.3L503.2,944.0L498.5,945.6L493.8,947.3L489.0,948.9L484.3,950.4L479.5,952.0L474.7,953.5Z M477.6,964.8L482.1,962.9L486.7,961.1L491.2,959.4L495.8,957.7L500.3,956.2L504.9,954.6L509.5,953.2L514.1,951.8L518.8,950.5L523.4,949.2L523.2,947.8L518.3,948.6L513.6,949.6L508.8,950.8L504.1,952.1L499.5,953.6L494.9,955.3L490.3,957.2L485.9,959.2L481.4,961.5L477.1,963.9Z M478.3,969.5L483.2,969.4L488.2,969.0L493.1,968.5L498.0,967.8L502.8,966.9L507.6,965.9L512.4,964.7L517.1,963.3L521.7,961.8L526.3,960.1L525.9,958.8L521.2,960.0L516.5,961.1L511.7,962.2L507.0,963.3L502.3,964.3L497.5,965.2L492.7,966.1L487.9,967.0L483.1,967.8L478.2,968.5Z M479.4,981.4L484.1,979.8L488.7,978.2L493.3,976.6L498.0,974.9L502.6,973.2L507.1,971.4L511.7,969.6L516.2,967.8L520.8,965.9L525.3,964.0L524.8,962.7L520.1,964.1L515.5,965.6L510.8,967.2L506.2,968.9L501.6,970.6L497.0,972.5L492.5,974.3L488.0,976.3L483.5,978.3L479.0,980.4Z M481.5,985.7L486.7,985.0L492.0,984.2L497.2,983.2L502.4,982.1L507.5,980.9L512.7,979.6L517.7,978.2L522.8,976.6L527.8,974.9L532.8,973.1L532.4,971.8L527.3,973.1L522.2,974.4L517.1,975.7L512.0,977.0L506.9,978.3L501.8,979.6L496.7,980.9L491.6,982.2L486.4,983.4L481.3,984.8Z M483.8,1000.5L488.7,998.8L493.5,997.1L498.3,995.4L503.2,993.8L508.0,992.2L512.8,990.6L517.6,989.1L522.5,987.6L527.3,986.1L532.2,984.6L531.9,983.3L526.9,984.3L521.9,985.4L516.9,986.6L512.0,988.0L507.1,989.6L502.3,991.3L497.5,993.1L492.8,995.1L488.1,997.3L483.4,999.6Z M484.6,1005.3L490.1,1004.4L495.6,1003.4L501.0,1002.4L506.5,1001.2L511.9,1000.1L517.3,998.8L522.7,997.5L528.1,996.1L533.5,994.7L538.8,993.2L538.5,991.9L533.0,992.9L527.6,993.9L522.2,995.1L516.7,996.2L511.3,997.4L505.9,998.7L500.5,1000.0L495.1,1001.4L489.7,1002.8L484.4,1004.3Z M486.7,1015.9L491.5,1014.3L496.3,1012.7L501.1,1011.0L505.9,1009.4L510.7,1007.7L515.5,1006.0L520.3,1004.3L525.1,1002.6L529.8,1000.9L534.6,999.2L534.2,997.8L529.3,999.1L524.4,1000.5L519.5,1001.9L514.6,1003.5L509.8,1005.1L505.0,1006.9L500.3,1008.8L495.6,1010.8L490.9,1012.8L486.3,1015.0Z M487.9,1020.6L493.0,1020.0L498.1,1019.3L503.2,1018.4L508.3,1017.4L513.3,1016.2L518.3,1014.9L523.2,1013.4L528.1,1011.8L533.0,1010.0L537.8,1008.1L537.3,1006.8L532.4,1008.2L527.5,1009.6L522.5,1011.0L517.6,1012.3L512.7,1013.6L507.7,1014.9L502.7,1016.1L497.7,1017.3L492.7,1018.5L487.7,1019.6Z" fill="#0a0a0a"/>
<ellipse cx="7.8" cy="477.6" rx="7.0" ry="7.1" fill="#0a0a0a"/><ellipse cx="8.3" cy="476.2" rx="4.0" ry="3.5" fill="#5FA545"/>
<ellipse cx="26.4" cy="476.7" rx="7.0" ry="7.1" fill="#0a0a0a"/><ellipse cx="26.9" cy="475.3" rx="4.0" ry="3.5" fill="#5FA545"/>
<ellipse cx="44.9" cy="476.7" rx="7.0" ry="7.1" fill="#0a0a0a"/><ellipse cx="45.4" cy="475.3" rx="4.0" ry="3.5" fill="#5FA545"/>
<ellipse cx="63.5" cy="475.3" rx="7.0" ry="7.1" fill="#0a0a0a"/><ellipse cx="64.0" cy="473.9" rx="4.0" ry="3.5" fill="#5FA545"/>
<ellipse cx="82.0" cy="479.2" rx="7.0" ry="7.1" fill="#0a0a0a"/><ellipse cx="82.5" cy="477.8" rx="4.0" ry="3.5" fill="#5FA545"/>
<ellipse cx="101.2" cy="481.6" rx="7.0" ry="7.1" fill="#0a0a0a"/><ellipse cx="101.7" cy="480.2" rx="4.0" ry="3.5" fill="#5FA545"/>
<ellipse cx="119.1" cy="483.5" rx="7.0" ry="7.1" fill="#0a0a0a"/><ellipse cx="119.6" cy="482.1" rx="4.0" ry="3.5" fill="#5FA545"/>
<ellipse cx="133.4" cy="485.5" rx="7.0" ry="7.1" fill="#0a0a0a"/><ellipse cx="133.9" cy="484.1" rx="4.0" ry="3.5" fill="#5FA545"/>
<ellipse cx="145.5" cy="490.3" rx="7.0" ry="7.1" fill="#0a0a0a"/><ellipse cx="146.0" cy="488.9" rx="4.0" ry="3.5" fill="#5FA545"/>
<ellipse cx="159.2" cy="495.2" rx="7.0" ry="7.1" fill="#0a0a0a"/><ellipse cx="159.7" cy="493.8" rx="4.0" ry="3.5" fill="#5FA545"/>
<ellipse cx="173.4" cy="502.6" rx="7.0" ry="7.1" fill="#0a0a0a"/><ellipse cx="173.9" cy="501.2" rx="4.0" ry="3.5" fill="#5FA545"/>
<ellipse cx="191.0" cy="508.5" rx="7.0" ry="7.1" fill="#0a0a0a"/><ellipse cx="191.5" cy="507.1" rx="4.0" ry="3.5" fill="#5FA545"/>
<ellipse cx="208.3" cy="516.4" rx="7.0" ry="7.1" fill="#0a0a0a"/><ellipse cx="208.8" cy="515.0" rx="4.0" ry="3.5" fill="#5FA545"/>
<ellipse cx="225.9" cy="522.3" rx="7.0" ry="7.1" fill="#0a0a0a"/><ellipse cx="226.4" cy="520.9" rx="4.0" ry="3.5" fill="#5FA545"/>
<ellipse cx="241.5" cy="533.0" rx="7.0" ry="7.1" fill="#0a0a0a"/><ellipse cx="242.0" cy="531.6" rx="4.0" ry="3.5" fill="#5FA545"/>
<ellipse cx="258.1" cy="542.8" rx="7.0" ry="7.1" fill="#0a0a0a"/><ellipse cx="258.6" cy="541.4" rx="4.0" ry="3.5" fill="#5FA545"/>
<ellipse cx="273.4" cy="551.6" rx="7.0" ry="7.1" fill="#0a0a0a"/><ellipse cx="273.9" cy="550.2" rx="4.0" ry="3.5" fill="#5FA545"/>
<ellipse cx="314.4" cy="578.9" rx="7.0" ry="7.1" fill="#0a0a0a"/><ellipse cx="314.9" cy="577.5" rx="4.0" ry="3.5" fill="#5FA545"/>
<ellipse cx="330.8" cy="587.8" rx="7.0" ry="7.1" fill="#0a0a0a"/><ellipse cx="331.3" cy="586.4" rx="4.0" ry="3.5" fill="#5FA545"/>
<ellipse cx="346.6" cy="599.3" rx="7.0" ry="7.1" fill="#0a0a0a"/><ellipse cx="347.1" cy="597.9" rx="4.0" ry="3.5" fill="#5FA545"/>
<ellipse cx="363.4" cy="605.5" rx="7.0" ry="7.1" fill="#0a0a0a"/><ellipse cx="363.9" cy="604.1" rx="4.0" ry="3.5" fill="#5FA545"/>
<ellipse cx="377.7" cy="618.7" rx="7.0" ry="7.1" fill="#0a0a0a"/><ellipse cx="378.2" cy="617.3" rx="4.0" ry="3.5" fill="#5FA545"/>
<ellipse cx="393.6" cy="630.0" rx="7.0" ry="7.1" fill="#0a0a0a"/><ellipse cx="394.1" cy="628.6" rx="4.0" ry="3.5" fill="#5FA545"/>
<ellipse cx="406.6" cy="641.1" rx="7.0" ry="7.1" fill="#0a0a0a"/><ellipse cx="407.1" cy="639.7" rx="4.0" ry="3.5" fill="#5FA545"/>
<ellipse cx="444.2" cy="685.2" rx="7.0" ry="7.1" fill="#0a0a0a"/><ellipse cx="444.7" cy="683.8" rx="4.0" ry="3.5" fill="#5FA545"/>
<ellipse cx="456.0" cy="699.1" rx="7.0" ry="7.1" fill="#0a0a0a"/><ellipse cx="456.5" cy="697.7" rx="4.0" ry="3.5" fill="#5FA545"/>
<ellipse cx="466.8" cy="714.2" rx="7.0" ry="7.1" fill="#0a0a0a"/><ellipse cx="467.3" cy="712.8" rx="4.0" ry="3.5" fill="#5FA545"/>
<ellipse cx="479.7" cy="729.2" rx="7.0" ry="7.1" fill="#0a0a0a"/><ellipse cx="480.2" cy="727.8" rx="4.0" ry="3.5" fill="#5FA545"/>
<ellipse cx="487.2" cy="746.4" rx="7.0" ry="7.1" fill="#0a0a0a"/><ellipse cx="487.7" cy="745.0" rx="4.0" ry="3.5" fill="#5FA545"/>
<ellipse cx="496.8" cy="763.6" rx="7.0" ry="7.1" fill="#0a0a0a"/><ellipse cx="497.3" cy="762.2" rx="4.0" ry="3.5" fill="#5FA545"/>
<ellipse cx="504.4" cy="778.6" rx="7.0" ry="7.1" fill="#0a0a0a"/><ellipse cx="504.9" cy="777.2" rx="4.0" ry="3.5" fill="#5FA545"/>
<ellipse cx="515.0" cy="797.3" rx="7.0" ry="7.1" fill="#0a0a0a"/><ellipse cx="515.5" cy="795.9" rx="4.0" ry="3.5" fill="#5FA545"/>
<ellipse cx="526.2" cy="817.3" rx="7.0" ry="7.1" fill="#0a0a0a"/><ellipse cx="526.7" cy="815.9" rx="4.0" ry="3.5" fill="#5FA545"/>
<ellipse cx="537.3" cy="832.7" rx="7.0" ry="7.1" fill="#0a0a0a"/><ellipse cx="537.8" cy="831.3" rx="4.0" ry="3.5" fill="#5FA545"/>
<ellipse cx="546.8" cy="849.4" rx="7.0" ry="7.1" fill="#0a0a0a"/><ellipse cx="547.3" cy="848.0" rx="4.0" ry="3.5" fill="#5FA545"/>
<ellipse cx="557.5" cy="863.7" rx="7.0" ry="7.1" fill="#0a0a0a"/><ellipse cx="558.0" cy="862.3" rx="4.0" ry="3.5" fill="#5FA545"/>
<ellipse cx="564.7" cy="881.6" rx="7.0" ry="7.1" fill="#0a0a0a"/><ellipse cx="565.2" cy="880.2" rx="4.0" ry="3.5" fill="#5FA545"/>
<ellipse cx="573.0" cy="899.5" rx="7.0" ry="7.1" fill="#0a0a0a"/><ellipse cx="573.5" cy="898.1" rx="4.0" ry="3.5" fill="#5FA545"/>
<ellipse cx="580.2" cy="915.0" rx="7.0" ry="7.1" fill="#0a0a0a"/><ellipse cx="580.7" cy="913.6" rx="4.0" ry="3.5" fill="#5FA545"/>
<ellipse cx="586.1" cy="936.4" rx="7.0" ry="7.1" fill="#0a0a0a"/><ellipse cx="586.6" cy="935.0" rx="4.0" ry="3.5" fill="#5FA545"/>
<ellipse cx="593.3" cy="953.1" rx="7.0" ry="7.1" fill="#0a0a0a"/><ellipse cx="593.8" cy="951.7" rx="4.0" ry="3.5" fill="#5FA545"/>
<ellipse cx="599.3" cy="971.0" rx="7.0" ry="7.1" fill="#0a0a0a"/><ellipse cx="599.8" cy="969.6" rx="4.0" ry="3.5" fill="#5FA545"/>
<ellipse cx="606.4" cy="987.6" rx="7.0" ry="7.1" fill="#0a0a0a"/><ellipse cx="606.9" cy="986.2" rx="4.0" ry="3.5" fill="#5FA545"/>
<ellipse cx="608.8" cy="1006.7" rx="7.0" ry="7.1" fill="#0a0a0a"/><ellipse cx="609.3" cy="1005.3" rx="4.0" ry="3.5" fill="#5FA545"/>
<ellipse cx="612.4" cy="1022.2" rx="7.0" ry="7.1" fill="#0a0a0a"/><ellipse cx="612.9" cy="1020.8" rx="4.0" ry="3.5" fill="#5FA545"/>
<ellipse cx="615.0" cy="1040.3" rx="7.0" ry="7.1" fill="#0a0a0a"/><ellipse cx="615.5" cy="1038.9" rx="4.0" ry="3.5" fill="#5FA545"/>
<ellipse cx="-14.0" cy="595.3" rx="7.0" ry="7.1" fill="#0a0a0a"/><ellipse cx="-13.5" cy="593.9" rx="4.0" ry="3.5" fill="#5FA545"/>
<ellipse cx="2.9" cy="595.8" rx="7.0" ry="7.1" fill="#0a0a0a"/><ellipse cx="3.4" cy="594.4" rx="4.0" ry="3.5" fill="#5FA545"/>
<ellipse cx="21.1" cy="595.8" rx="7.0" ry="7.1" fill="#0a0a0a"/><ellipse cx="21.6" cy="594.4" rx="4.0" ry="3.5" fill="#5FA545"/>
<ellipse cx="38.1" cy="595.8" rx="7.0" ry="7.1" fill="#0a0a0a"/><ellipse cx="38.6" cy="594.4" rx="4.0" ry="3.5" fill="#5FA545"/>
<ellipse cx="54.7" cy="597.2" rx="7.0" ry="7.1" fill="#0a0a0a"/><ellipse cx="55.2" cy="595.8" rx="4.0" ry="3.5" fill="#5FA545"/>
<ellipse cx="71.3" cy="599.7" rx="7.0" ry="7.1" fill="#0a0a0a"/><ellipse cx="71.8" cy="598.3" rx="4.0" ry="3.5" fill="#5FA545"/>
<ellipse cx="86.5" cy="599.7" rx="7.0" ry="7.1" fill="#0a0a0a"/><ellipse cx="87.0" cy="598.3" rx="4.0" ry="3.5" fill="#5FA545"/>
<ellipse cx="101.2" cy="602.6" rx="7.0" ry="7.1" fill="#0a0a0a"/><ellipse cx="101.7" cy="601.2" rx="4.0" ry="3.5" fill="#5FA545"/>
<ellipse cx="112.3" cy="607.5" rx="7.0" ry="7.1" fill="#0a0a0a"/><ellipse cx="112.8" cy="606.1" rx="4.0" ry="3.5" fill="#5FA545"/>
<ellipse cx="122.0" cy="612.4" rx="7.0" ry="7.1" fill="#0a0a0a"/><ellipse cx="122.5" cy="611.0" rx="4.0" ry="3.5" fill="#5FA545"/>
<ellipse cx="131.8" cy="617.9" rx="7.0" ry="7.1" fill="#0a0a0a"/><ellipse cx="132.3" cy="616.5" rx="4.0" ry="3.5" fill="#5FA545"/>
<ellipse cx="150.4" cy="624.1" rx="7.0" ry="7.1" fill="#0a0a0a"/><ellipse cx="150.9" cy="622.7" rx="4.0" ry="3.5" fill="#5FA545"/>
<ellipse cx="167.0" cy="628.4" rx="7.0" ry="7.1" fill="#0a0a0a"/><ellipse cx="167.5" cy="627.0" rx="4.0" ry="3.5" fill="#5FA545"/>
<ellipse cx="182.6" cy="634.9" rx="7.0" ry="7.1" fill="#0a0a0a"/><ellipse cx="183.1" cy="633.5" rx="4.0" ry="3.5" fill="#5FA545"/>
<ellipse cx="197.0" cy="641.1" rx="7.0" ry="7.1" fill="#0a0a0a"/><ellipse cx="197.5" cy="639.7" rx="4.0" ry="3.5" fill="#5FA545"/>
<ellipse cx="211.7" cy="647.2" rx="7.0" ry="7.1" fill="#0a0a0a"/><ellipse cx="212.2" cy="645.8" rx="4.0" ry="3.5" fill="#5FA545"/>
<ellipse cx="224.4" cy="653.0" rx="7.0" ry="7.1" fill="#0a0a0a"/><ellipse cx="224.9" cy="651.6" rx="4.0" ry="3.5" fill="#5FA545"/>
<ellipse cx="237.0" cy="666.3" rx="7.0" ry="7.1" fill="#0a0a0a"/><ellipse cx="237.5" cy="664.9" rx="4.0" ry="3.5" fill="#5FA545"/>
<ellipse cx="249.8" cy="680.3" rx="7.0" ry="7.1" fill="#0a0a0a"/><ellipse cx="250.3" cy="678.9" rx="4.0" ry="3.5" fill="#5FA545"/>
<ellipse cx="264.5" cy="690.1" rx="7.0" ry="7.1" fill="#0a0a0a"/><ellipse cx="265.0" cy="688.7" rx="4.0" ry="3.5" fill="#5FA545"/>
<ellipse cx="279.1" cy="698.0" rx="7.0" ry="7.1" fill="#0a0a0a"/><ellipse cx="279.6" cy="696.6" rx="4.0" ry="3.5" fill="#5FA545"/>
<ellipse cx="292.8" cy="707.7" rx="7.0" ry="7.1" fill="#0a0a0a"/><ellipse cx="293.3" cy="706.3" rx="4.0" ry="3.5" fill="#5FA545"/>
<ellipse cx="305.5" cy="719.4" rx="7.0" ry="7.1" fill="#0a0a0a"/><ellipse cx="306.0" cy="718.0" rx="4.0" ry="3.5" fill="#5FA545"/>
<ellipse cx="319.1" cy="727.3" rx="7.0" ry="7.1" fill="#0a0a0a"/><ellipse cx="319.6" cy="725.9" rx="4.0" ry="3.5" fill="#5FA545"/>
<ellipse cx="329.9" cy="736.0" rx="7.0" ry="7.1" fill="#0a0a0a"/><ellipse cx="330.4" cy="734.6" rx="4.0" ry="3.5" fill="#5FA545"/>
<ellipse cx="339.0" cy="750.3" rx="7.0" ry="7.1" fill="#0a0a0a"/><ellipse cx="339.5" cy="748.9" rx="4.0" ry="3.5" fill="#5FA545"/>
<ellipse cx="347.5" cy="765.7" rx="7.0" ry="7.1" fill="#0a0a0a"/><ellipse cx="348.0" cy="764.3" rx="4.0" ry="3.5" fill="#5FA545"/>
<ellipse cx="360.4" cy="780.8" rx="7.0" ry="7.1" fill="#0a0a0a"/><ellipse cx="360.9" cy="779.4" rx="4.0" ry="3.5" fill="#5FA545"/>
<ellipse cx="372.2" cy="792.6" rx="7.0" ry="7.1" fill="#0a0a0a"/><ellipse cx="372.7" cy="791.2" rx="4.0" ry="3.5" fill="#5FA545"/>
<ellipse cx="382.5" cy="805.8" rx="7.0" ry="7.1" fill="#0a0a0a"/><ellipse cx="383.0" cy="804.4" rx="4.0" ry="3.5" fill="#5FA545"/>
<ellipse cx="391.0" cy="820.8" rx="7.0" ry="7.1" fill="#0a0a0a"/><ellipse cx="391.5" cy="819.4" rx="4.0" ry="3.5" fill="#5FA545"/>
<ellipse cx="401.4" cy="832.7" rx="7.0" ry="7.1" fill="#0a0a0a"/><ellipse cx="401.9" cy="831.3" rx="4.0" ry="3.5" fill="#5FA545"/>
<ellipse cx="408.6" cy="843.5" rx="7.0" ry="7.1" fill="#0a0a0a"/><ellipse cx="409.1" cy="842.1" rx="4.0" ry="3.5" fill="#5FA545"/>
<ellipse cx="419.0" cy="860.3" rx="7.0" ry="7.1" fill="#0a0a0a"/><ellipse cx="419.5" cy="858.9" rx="4.0" ry="3.5" fill="#5FA545"/>
<ellipse cx="430.0" cy="876.8" rx="7.0" ry="7.1" fill="#0a0a0a"/><ellipse cx="430.5" cy="875.4" rx="4.0" ry="3.5" fill="#5FA545"/>
<ellipse cx="439.6" cy="894.7" rx="7.0" ry="7.1" fill="#0a0a0a"/><ellipse cx="440.1" cy="893.3" rx="4.0" ry="3.5" fill="#5FA545"/>
<ellipse cx="447.9" cy="909.0" rx="7.0" ry="7.1" fill="#0a0a0a"/><ellipse cx="448.4" cy="907.6" rx="4.0" ry="3.5" fill="#5FA545"/>
<ellipse cx="455.1" cy="924.5" rx="7.0" ry="7.1" fill="#0a0a0a"/><ellipse cx="455.6" cy="923.1" rx="4.0" ry="3.5" fill="#5FA545"/>
<ellipse cx="461.0" cy="940.0" rx="7.0" ry="7.1" fill="#0a0a0a"/><ellipse cx="461.5" cy="938.6" rx="4.0" ry="3.5" fill="#5FA545"/>
<ellipse cx="468.2" cy="954.3" rx="7.0" ry="7.1" fill="#0a0a0a"/><ellipse cx="468.7" cy="952.9" rx="4.0" ry="3.5" fill="#5FA545"/>
<ellipse cx="471.8" cy="968.6" rx="7.0" ry="7.1" fill="#0a0a0a"/><ellipse cx="472.3" cy="967.2" rx="4.0" ry="3.5" fill="#5FA545"/>
<ellipse cx="474.1" cy="985.3" rx="7.0" ry="7.1" fill="#0a0a0a"/><ellipse cx="474.6" cy="983.9" rx="4.0" ry="3.5" fill="#5FA545"/>
<ellipse cx="477.7" cy="1004.3" rx="7.0" ry="7.1" fill="#0a0a0a"/><ellipse cx="478.2" cy="1002.9" rx="4.0" ry="3.5" fill="#5FA545"/>
<ellipse cx="481.3" cy="1019.8" rx="7.0" ry="7.1" fill="#0a0a0a"/><ellipse cx="481.8" cy="1018.4" rx="4.0" ry="3.5" fill="#5FA545"/>
<ellipse cx="484.0" cy="1040.3" rx="7.0" ry="7.1" fill="#0a0a0a"/><ellipse cx="484.5" cy="1038.9" rx="4.0" ry="3.5" fill="#5FA545"/>
<path d="M245.7,620.0L270.6,631.7L165.1,838.2L140.2,826.5Z" fill="#7FA1CD"/>
<path d="M366.4,705.2L385.5,725.7L214.6,888.4L195.5,869.3Z" fill="#7FA1CD"/>
<path d="M432.5,639.6L455.0,662.5L386.6,726.8L365.3,704.0Z" fill="#DF5249"/>
<path d="M246.3,941.5L636.9,714.7L653.7,737.8L261.0,962.5Z" fill="#7FA1CD"/>
<path d="M441.6,827.0L525.6,779.8L538.2,802.9L456.3,851.2Z" fill="#DF5249"/>
<text x="0" y="0" font-size="23.5" style="stroke-width:0.8px" text-anchor="middle" dominant-baseline="central" transform="translate(457.2,837.5) rotate(-30)">Amyloid precursor protein (APP)</text>
<path d="M468.3,480.5L480.0,479.2L494.0,478.8L497.6,481.0L493.3,580.2L463.4,576.0Z" fill="#7FA1CD"/>
<g transform="translate(289.7,485.8) rotate(-11.5)"><rect x="-15" y="-46.5" width="30" height="93" fill="#DF5249"/><text x="-6" y="-1.5" font-size="20.5" text-anchor="middle" dominant-baseline="central" transform="rotate(90)">A<tspan class="g" font-family="Liberation Serif" font-style="italic">β</tspan></text></g>
<path d="M412.4,611.5L409.1,608.0L405.8,604.5L402.5,601.1L399.2,597.9L396.0,594.6L392.7,591.5L389.4,588.5L386.1,585.5L382.8,582.6L379.5,579.8L376.3,577.1L373.0,574.5L369.7,572.0L366.4,569.5L363.1,567.1L359.9,564.8L356.6,562.6L353.3,560.5L350.0,558.5L346.7,556.5L343.5,554.6L340.2,552.9L336.9,551.2L333.6,549.5L331.4,554.5L334.6,555.9L337.8,557.5L341.1,559.1L344.3,560.8L347.6,562.7L350.8,564.6L354.1,566.5L357.3,568.6L360.6,570.8L363.9,573.0L367.2,575.3L370.5,577.8L373.8,580.3L377.1,582.8L380.4,585.5L383.7,588.3L387.0,591.1L390.3,594.1L393.7,597.1L397.0,600.2L400.3,603.4L403.7,606.6L407.0,610.0L410.4,613.5Z" fill="#0d0d0d"/>
<path d="M356.3,546.9L332,551.8L338.2,573.2" stroke="#0d0d0d" stroke-width="5" fill="none" stroke-linecap="round" stroke-linejoin="round"/>
<path d="M528.2,753.9L524.9,748.9L521.7,744.0L518.6,739.2L515.6,734.6L512.8,730.1L510.1,725.7L507.5,721.5L505.0,717.3L502.6,713.3L500.4,709.5L498.2,705.7L496.2,702.1L494.3,698.7L492.5,695.3L490.8,692.1L489.3,689.0L487.9,686.1L486.6,683.2L485.4,680.5L484.3,678.0L483.3,675.6L482.5,673.3L481.8,671.2L481.2,669.2L475.8,670.8L476.6,673.0L477.5,675.2L478.5,677.6L479.6,680.0L480.8,682.6L482.1,685.4L483.6,688.2L485.1,691.1L486.8,694.2L488.6,697.4L490.5,700.8L492.6,704.2L494.7,707.8L496.9,711.5L499.3,715.3L501.8,719.3L504.4,723.4L507.1,727.6L509.9,731.9L512.9,736.4L516.0,741.0L519.1,745.7L522.4,750.5L525.8,755.5Z" fill="#0d0d0d"/>
<path d="M495.5,669.2L478,669.5L473.7,682.9" stroke="#0d0d0d" stroke-width="5" fill="none" stroke-linecap="round" stroke-linejoin="round"/>
<text x="0" y="0" font-size="18.5" transform="translate(342,523) rotate(40)"><tspan class="g" font-family="Liberation Serif" font-style="italic">γ</tspan>−Secretase</text>
<text x="0" y="0" font-size="18.5" transform="translate(511,641.5) rotate(55)"><tspan class="g" font-family="Liberation Serif" font-style="italic">β</tspan>−Secretase</text>
</svg></body></html>
